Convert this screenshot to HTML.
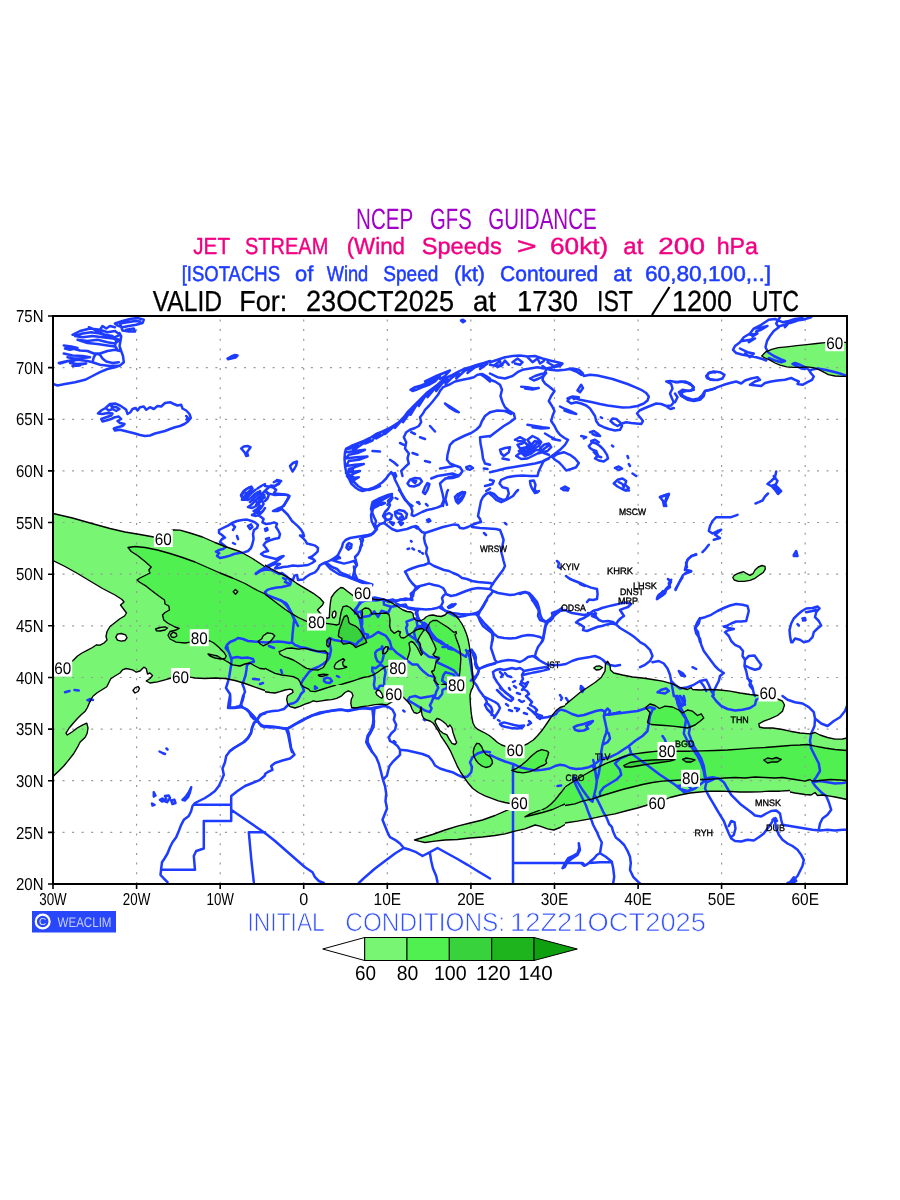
<!DOCTYPE html>
<html><head><meta charset="utf-8"><title>NCEP GFS Guidance - Jet Stream 200 hPa</title>
<style>html,body{margin:0;padding:0;background:#fff;}body{width:900px;height:1200px;position:relative;overflow:hidden;font-family:"Liberation Sans",sans-serif;}</style>
</head><body>
<svg width="900" height="1200" viewBox="0 0 900 1200" style="position:absolute;left:0;top:0;font-family:'Liberation Sans',sans-serif;will-change:transform;transform:translateZ(0)" text-rendering="geometricPrecision">
<rect width="900" height="1200" fill="#fff"/>
<defs><clipPath id="cp"><rect x="53" y="316" width="794" height="568"/></clipPath></defs>
<g clip-path="url(#cp)">
<clipPath id="t1"><rect x="40" y="506" width="225" height="190"/></clipPath>
<g clip-path="url(#t1)">
<path d="M30.0,508.5 L53.0,513.5 L72.5,518.0 L90.0,523.0 L110.0,528.5 L125.0,532.0 L140.0,534.5 L153.8,537.0 L165.0,532.2 L173.8,529.8 L180.0,530.2 L190.0,533.0 L202.5,537.0 L215.0,542.5 L225.0,546.5 L240.0,551.5 L252.5,558.5 L265.0,566.8 L275.0,573.5 L275.0,693.5 L265.0,690.5 L255.0,687.2 L245.0,683.5 L235.0,680.5 L225.0,678.5 L215.0,678.0 L205.0,678.5 L195.0,678.0 L190.0,677.2 L180.5,677.0 L171.2,678.0 L165.0,679.8 L157.5,681.8 L150.0,683.0 L146.2,681.0 L150.0,678.5 L152.5,675.5 L150.0,673.0 L147.5,674.0 L146.2,668.5 L143.8,667.2 L140.0,671.0 L136.2,672.2 L132.5,669.8 L126.2,668.5 L122.5,669.8 L120.0,673.0 L115.0,676.0 L110.8,678.8 L106.8,686.8 L97.2,692.8 L93.2,696.0 L91.2,706.0 L30.0,706.0 L30.0,681.0 L53.0,672.2 L62.0,668.0 L70.0,663.0 L73.8,659.8 L77.5,656.0 L82.0,653.0 L87.5,650.2 L92.5,647.5 L96.5,644.8 L100.0,645.2 L104.0,643.0 L107.0,640.0 L106.0,636.5 L107.0,631.5 L110.0,626.5 L114.5,623.0 L119.5,619.0 L124.5,616.0 L126.5,613.0 L123.5,609.0 L120.5,605.0 L124.0,602.0 L122.0,599.5 L115.0,595.0 L102.5,588.5 L90.0,581.0 L77.5,573.5 L65.0,566.5 L53.0,560.5 L30.0,549.8Z" fill="#78f573"/>
<path d="M115.8,637.2 L117.5,634.2 L121.2,633.5 L125.5,634.8 L127.0,637.8 L125.0,640.5 L121.2,641.2 L117.5,640.2Z" fill="#ffffff"/>
<path d="M133.0,690.5 L135.0,687.8 L138.0,686.5 L139.5,688.5 L138.0,691.5 L135.0,693.0Z" fill="#ffffff"/>
<path d="M128.0,547.5 L135.0,546.5 L145.0,547.5 L157.5,550.0 L170.0,553.5 L182.5,557.5 L195.0,562.0 L207.5,567.5 L220.0,573.0 L232.5,578.0 L245.0,583.5 L257.5,590.5 L265.0,594.0 L275.0,599.0 L275.0,666.0 L265.0,669.0 L260.0,668.5 L255.0,666.0 L250.0,663.0 L245.0,664.0 L240.0,666.0 L232.5,664.8 L226.2,661.0 L222.5,659.0 L217.5,656.0 L212.5,654.8 L208.0,654.0 L210.0,656.0 L215.0,658.0 L221.2,659.0 L225.0,658.5 L226.2,656.0 L223.8,652.2 L218.8,647.2 L213.8,643.0 L210.0,641.0 L199.2,638.5 L190.0,642.2 L185.0,643.0 L176.2,642.2 L170.0,639.0 L168.0,635.2 L170.0,631.5 L176.2,630.0 L179.2,628.5 L175.0,627.0 L167.5,623.0 L163.8,620.0 L162.5,615.0 L165.0,612.5 L169.5,610.0 L168.8,606.0 L165.0,604.0 L164.5,600.0 L158.8,596.0 L152.5,591.2 L146.2,586.2 L140.0,582.5 L137.0,580.0 L140.0,578.0 L145.0,575.5 L150.0,573.0 L148.8,570.0 L151.2,567.0 L145.0,561.5 L137.5,555.5 L131.2,551.5Z" fill="#50f050"/>
<path d="M233.2,591.8 L235.5,589.5 L237.8,591.8 L235.5,594.2Z" fill="#78f573"/>
<path d="M263.2,635.8 L267.5,632.8 L272.5,633.8 L274.8,635.8 L271.8,640.0 L267.5,644.0 L263.2,645.8 L260.0,643.8 L258.2,641.2 L261.8,638.8Z" fill="#78f573"/>
<path d="M170.5,634.8 L173.0,632.2 L176.2,633.5 L176.8,636.0 L174.2,637.5 L171.5,637.0Z" fill="#78f573"/>
<path d="M155.5,629.0 L160.0,627.5 L165.0,626.8 L167.5,628.0 L165.0,630.0 L160.0,631.0 L156.5,630.8Z" fill="#78f573"/>
</g>
<clipPath id="t2"><rect x="40" y="696" width="225" height="190"/></clipPath>
<g clip-path="url(#t2)">
<path d="M30.0,686.0 L97.5,686.0 L93.2,696.0 L91.2,699.2 L89.2,703.2 L87.2,708.0 L85.2,711.2 L81.2,714.8 L77.2,718.8 L73.2,723.2 L69.2,728.0 L66.0,733.2 L67.2,735.0 L72.0,732.0 L77.2,728.0 L82.8,724.8 L86.8,723.2 L88.0,728.0 L87.2,733.2 L85.2,737.2 L80.0,742.2 L77.5,747.2 L73.8,753.5 L68.8,759.8 L63.8,766.0 L58.8,771.0 L53.0,776.5 L30.0,796.0Z" fill="#78f573"/>
</g>
<clipPath id="t3"><rect x="265" y="560" width="150" height="125"/></clipPath>
<g clip-path="url(#t3)">
<path d="M258.3,560.8 L265.0,565.0 L271.7,569.2 L280.0,573.3 L288.3,577.5 L296.7,583.3 L305.0,588.3 L313.3,593.3 L320.0,598.3 L323.7,602.5 L322.5,605.0 L319.2,608.3 L317.5,610.0 L320.0,613.0 L323.3,615.8 L327.0,618.3 L329.3,617.5 L329.7,610.0 L330.3,603.3 L331.3,597.5 L334.2,593.3 L337.5,590.0 L340.8,587.5 L343.3,588.0 L346.7,590.8 L350.0,593.3 L353.3,595.8 L362.5,597.5 L371.7,598.7 L378.3,600.0 L383.3,599.2 L388.3,600.8 L393.3,603.7 L398.3,607.0 L403.0,610.0 L407.0,611.5 L411.0,612.0 L413.0,613.5 L413.5,617.0 L415.0,619.5 L421.7,620.8 L421.7,693.3 L258.3,693.3Z" fill="#78f573"/>
<path d="M332.2,615.0 L333.0,612.0 L334.7,611.0 L336.0,612.5 L335.7,615.8 L334.0,618.0 L332.7,617.3Z" fill="#ffffff"/>
<path d="M258.3,590.0 L265.0,594.2 L271.7,599.2 L278.3,604.2 L285.0,609.2 L291.7,613.7 L298.3,617.5 L306.7,621.3 L316.5,623.0 L325.8,623.3 L331.7,624.2 L336.7,625.0 L339.2,624.2 L340.0,618.3 L341.3,611.7 L343.0,606.7 L346.7,605.8 L350.0,607.5 L353.3,610.8 L356.7,614.2 L359.2,617.5 L361.7,618.3 L362.5,613.3 L362.0,610.0 L365.0,608.0 L368.3,608.3 L370.8,610.8 L371.7,614.2 L376.7,613.7 L381.7,613.3 L386.7,613.0 L389.2,615.0 L390.0,620.0 L389.7,625.8 L390.8,630.0 L394.2,633.3 L398.0,631.0 L400.5,632.0 L399.5,635.0 L401.0,637.5 L404.0,638.0 L407.0,636.0 L410.0,634.0 L413.0,632.0 L416.0,630.0 L422.0,628.5 L424.0,630.0 L422.0,633.0 L420.0,636.0 L418.5,639.0 L417.5,641.0 L419.5,642.5 L420.5,645.0 L420.0,648.0 L421.0,651.0 L422.5,653.5 L421.2,655.2 L419.5,652.0 L417.5,648.0 L415.5,645.0 L413.5,642.5 L411.0,641.5 L409.0,643.0 L409.5,646.0 L410.0,650.0 L409.0,654.0 L408.0,657.0 L407.0,659.8 L405.8,664.2 L403.3,668.0 L397.8,669.2 L389.2,665.8 L385.8,666.7 L381.7,669.2 L378.3,671.7 L373.3,675.0 L368.3,676.7 L363.3,677.5 L358.3,679.2 L353.3,680.8 L346.0,683.0 L338.3,685.3 L331.7,687.5 L331.7,693.3 L303.3,693.3 L300.8,683.3 L298.3,679.2 L293.3,676.7 L288.3,675.8 L281.7,675.0 L275.0,673.3 L270.0,670.8 L265.0,668.3 L258.3,665.0Z" fill="#50f050"/>
<path d="M263.3,635.8 L267.5,632.8 L272.5,633.7 L274.7,635.8 L271.7,640.0 L267.5,644.0 L263.3,645.8 L260.0,643.7 L258.3,641.3 L261.7,638.7Z" fill="#78f573"/>
<path d="M279.2,651.7 L283.3,650.0 L286.7,648.3 L291.7,648.0 L298.3,649.2 L305.0,648.3 L311.7,650.0 L318.3,651.3 L325.0,650.8 L327.5,653.3 L327.0,658.3 L325.8,663.3 L323.3,667.5 L318.3,670.0 L312.5,669.7 L306.7,668.3 L302.5,665.8 L298.3,663.0 L293.3,660.0 L288.3,658.0 L283.3,656.3 L280.0,654.2Z" fill="#78f573"/>
<path d="M327.0,640.0 L329.2,638.0 L330.8,639.2 L330.3,643.3 L328.3,647.0 L326.7,645.0Z" fill="#78f573"/>
<path d="M334.2,666.7 L335.8,663.3 L339.2,660.8 L343.3,658.7 L344.7,660.0 L342.5,662.5 L343.3,665.8 L346.7,667.0 L343.3,668.3 L338.3,669.2 L335.0,668.7Z" fill="#78f573"/>
<path d="M318.3,675.0 L323.3,674.2 L328.0,674.7 L323.3,676.2 L319.2,676.2Z" fill="#78f573"/>
<path d="M382.5,653.3 L383.7,649.2 L385.8,646.7 L388.3,647.0 L387.5,650.8 L385.0,653.7Z" fill="#78f573"/>
<path d="M338.3,635.8 L339.2,630.0 L340.8,625.8 L342.5,620.8 L344.2,616.7 L346.7,615.3 L348.3,618.3 L348.8,622.5 L350.8,624.2 L355.0,625.8 L358.3,628.3 L360.8,631.7 L363.3,635.8 L365.8,640.0 L366.7,642.5 L363.3,644.2 L359.2,645.8 L355.8,647.5 L353.3,645.0 L350.0,643.0 L346.7,643.7 L343.3,644.2 L341.3,641.7 L342.0,638.3 L339.2,637.0Z" fill="#37d23c"/>
</g>
<clipPath id="t4"><rect x="415" y="560" width="150" height="125"/></clipPath>
<g clip-path="url(#t4)">
<path d="M408.3,620.8 L415.0,619.5 L418.0,621.0 L421.0,620.5 L424.0,619.0 L426.0,617.0 L429.0,615.5 L433.0,615.0 L437.0,616.0 L441.0,616.5 L445.0,615.0 L447.5,612.5 L450.0,611.8 L453.0,613.5 L456.0,616.0 L459.0,619.5 L462.0,624.0 L464.5,629.0 L466.5,634.0 L468.0,639.0 L469.0,644.0 L469.8,649.0 L470.5,654.0 L471.2,659.0 L471.8,664.0 L472.2,670.0 L472.5,675.0 L473.0,680.0 L473.7,685.0 L474.2,693.3 L408.3,693.3Z" fill="#78f573"/>
<path d="M408.3,633.3 L410.0,634.0 L413.0,632.0 L416.0,630.0 L419.0,629.0 L422.0,628.5 L424.0,630.0 L422.0,633.0 L420.0,636.0 L418.5,639.0 L417.5,641.0 L419.5,642.5 L420.5,645.0 L420.0,648.0 L421.0,651.0 L422.5,653.5 L421.2,655.2 L419.5,652.0 L417.5,648.0 L415.5,645.0 L413.5,642.5 L411.0,641.5 L408.3,642.5Z" fill="#50f050"/>
<path d="M426.0,630.0 L428.0,626.0 L430.0,622.5 L433.0,620.5 L437.0,620.5 L440.0,622.5 L444.0,625.0 L448.0,627.5 L451.0,630.0 L454.0,632.5 L456.0,631.5 L456.5,633.5 L455.0,634.5 L456.0,638.0 L457.5,642.0 L459.0,646.0 L460.0,650.0 L460.5,654.0 L460.8,659.0 L460.5,664.0 L460.0,670.0 L459.5,675.0 L459.3,677.2 L453.3,682.5 L447.0,685.0 L445.0,684.0 L442.5,684.5 L440.0,686.0 L438.5,685.0 L436.0,682.5 L434.0,680.5 L435.0,678.0 L433.5,675.0 L431.5,671.5 L434.0,670.5 L435.0,667.0 L436.0,662.0 L439.0,659.0 L438.0,657.5 L435.0,656.5 L433.0,654.5 L435.0,652.0 L436.0,649.0 L434.5,645.0 L432.0,640.0 L429.0,634.0Z" fill="#50f050"/>
</g>
<clipPath id="t5"><rect x="265" y="685" width="150" height="125"/></clipPath>
<g clip-path="url(#t5)">
<path d="M258.3,691.3 L265.0,691.7 L270.0,692.5 L275.0,693.0 L280.0,691.7 L285.0,690.0 L290.0,689.2 L292.5,690.0 L293.0,692.5 L290.0,694.2 L287.5,695.8 L286.7,699.2 L287.5,703.3 L290.0,706.7 L295.0,708.0 L300.0,706.3 L305.0,704.2 L310.0,702.5 L313.3,700.8 L316.7,701.7 L321.7,700.8 L326.7,700.0 L331.7,699.7 L336.7,698.3 L341.7,695.8 L345.0,692.5 L348.3,690.8 L351.7,692.5 L353.0,695.8 L351.3,699.2 L350.8,703.3 L351.7,707.5 L355.8,708.0 L361.7,706.7 L368.3,705.8 L375.0,704.7 L381.7,704.2 L386.7,705.0 L393.7,700.8 L403.0,697.0 L405.0,699.0 L408.0,702.0 L410.5,705.0 L412.0,709.0 L414.0,712.5 L417.0,713.5 L421.7,713.3 L421.7,678.3 L258.3,678.3Z" fill="#78f573"/>
<path d="M375.8,692.5 L377.5,690.0 L380.0,690.8 L381.7,693.3 L383.0,696.7 L381.7,698.3 L379.2,696.7 L377.0,695.0Z" fill="#ffffff"/>
<path d="M300.8,683.3 L303.3,686.7 L308.7,689.2 L310.3,691.2 L315.0,691.7 L321.7,689.5 L328.3,687.3 L335.0,685.3 L338.3,683.3Z" fill="#50f050"/>
</g>
<clipPath id="t6"><rect x="415" y="685" width="150" height="125"/></clipPath>
<g clip-path="url(#t6)">
<path d="M408.3,678.3 L471.7,678.3 L473.5,681.0 L473.0,687.0 L471.0,691.0 L470.0,695.0 L470.2,700.0 L470.5,705.0 L471.0,711.0 L471.8,717.0 L473.0,723.0 L475.0,727.0 L478.3,729.7 L481.7,731.3 L485.0,733.0 L489.2,735.5 L493.3,738.7 L497.5,742.5 L501.7,745.0 L505.8,746.3 L515.0,747.0 L524.2,745.3 L528.3,743.3 L533.3,740.0 L537.5,735.8 L541.7,730.8 L545.8,725.0 L549.2,720.0 L552.5,715.0 L555.8,710.8 L560.0,707.5 L565.0,705.8 L571.7,704.2 L571.7,818.3 L513.3,818.3 L514.7,809.2 L519.2,805.3 L510.8,803.7 L505.0,802.5 L498.3,800.8 L491.7,798.3 L485.0,795.8 L478.3,792.5 L472.5,788.3 L468.3,783.3 L464.2,777.5 L460.8,772.5 L457.5,766.7 L454.2,759.2 L450.8,751.7 L447.5,745.8 L444.2,740.8 L440.8,735.8 L438.3,730.8 L436.3,728.0 L434.5,725.0 L433.0,723.0 L430.0,721.0 L426.5,720.0 L423.5,718.0 L422.0,715.0 L421.5,711.0 L421.0,707.0 L420.0,712.0 L417.0,713.5 L414.0,712.5 L412.0,709.0 L410.5,705.0 L408.0,702.0 L405.0,699.0Z" fill="#78f573"/>
<path d="M435.0,721.0 L437.0,718.5 L440.0,719.5 L443.0,721.5 L446.0,724.0 L448.0,727.0 L450.0,725.0 L452.0,728.0 L453.0,732.5 L455.3,739.2 L456.7,742.5 L455.0,744.5 L452.0,743.3 L449.2,739.2 L446.7,734.7 L443.3,733.3 L440.0,730.8 L437.5,726.7 L435.8,723.7Z" fill="#ffffff"/>
<path d="M473.3,751.7 L474.2,747.5 L476.7,743.3 L479.2,743.7 L481.7,746.7 L483.3,750.8 L485.8,754.2 L490.0,756.7 L492.0,760.0 L492.5,763.3 L490.0,766.3 L485.8,767.5 L481.7,765.8 L478.3,763.3 L475.8,760.0 L473.7,755.8Z" fill="#50f050"/>
<path d="M511.7,770.3 L516.7,768.3 L521.7,765.0 L526.7,760.8 L531.7,755.8 L536.7,751.7 L541.7,749.7 L546.7,750.8 L548.7,752.5 L547.5,756.7 L545.8,760.8 L546.7,763.0 L544.2,765.0 L540.0,766.7 L535.8,769.2 L530.0,771.7 L523.3,772.8 L516.7,772.0Z" fill="#50f050"/>
<path d="M565.0,787.5 L561.7,791.7 L558.3,795.8 L555.0,800.0 L550.8,804.2 L546.7,807.5 L541.7,810.0 L531.7,814.2 L525.0,816.7 L535.0,814.2 L545.0,811.7 L552.5,809.5 L562.5,805.0 L572.5,801.2 L572.5,785.0Z" fill="#50f050"/>
</g>
<clipPath id="t7"><rect x="565" y="650" width="225" height="190"/></clipPath>
<g clip-path="url(#t7)">
<path d="M555.0,712.5 L565.0,705.0 L572.5,698.8 L580.0,692.5 L587.5,687.5 L595.0,682.5 L601.2,677.5 L605.0,671.2 L605.5,663.8 L607.5,661.2 L610.0,665.0 L610.5,670.0 L613.8,673.0 L622.5,675.0 L632.5,677.0 L642.5,678.0 L652.5,679.5 L662.5,681.2 L672.5,683.8 L680.0,687.5 L687.5,689.5 L691.2,687.5 L692.5,689.5 L700.0,690.0 L710.0,689.5 L720.0,690.0 L730.0,691.2 L740.0,693.0 L750.0,694.5 L758.8,695.5 L768.0,696.5 L777.5,698.8 L782.5,701.2 L784.5,705.0 L782.5,711.2 L777.5,715.5 L770.0,718.8 L763.8,721.2 L758.8,723.8 L759.5,727.0 L763.8,728.0 L772.5,728.0 L782.5,729.5 L790.0,731.2 L800.0,733.0 L800.0,790.0 L790.0,790.5 L780.0,791.2 L770.0,791.2 L760.0,791.8 L750.0,792.0 L740.0,792.0 L730.0,791.5 L720.0,791.2 L710.0,791.2 L700.0,792.0 L690.0,793.0 L680.0,795.0 L670.0,797.5 L657.0,803.0 L647.5,805.0 L637.5,808.0 L627.5,810.5 L615.0,813.8 L602.5,816.2 L590.0,818.8 L577.5,821.2 L565.0,823.0 L555.0,824.5Z" fill="#78f573"/>
<path d="M593.8,668.0 L596.2,666.2 L600.0,666.0 L602.5,667.5 L600.0,669.5 L596.2,670.0Z" fill="#78f573"/>
<path d="M645.5,707.5 L650.0,704.0 L655.0,705.5 L659.5,708.5 L665.0,706.2 L672.5,707.0 L678.8,710.0 L682.5,713.0 L687.5,710.0 L692.5,711.2 L697.5,715.5 L701.2,713.8 L703.8,718.0 L700.0,721.2 L695.0,725.0 L687.5,728.0 L680.0,727.0 L672.5,726.2 L665.0,725.5 L657.5,725.0 L651.2,724.5 L647.5,722.5 L648.8,717.5 L650.0,712.5Z" fill="#50f050"/>
<path d="M555.0,793.0 L565.0,787.0 L575.0,780.5 L585.0,774.5 L595.0,768.8 L605.0,763.8 L615.0,760.0 L625.0,756.2 L635.0,753.8 L645.0,752.5 L657.5,751.2 L667.0,751.2 L676.2,751.2 L690.0,751.2 L702.5,750.8 L715.0,750.5 L727.5,750.0 L740.0,749.2 L752.5,748.2 L765.0,747.5 L777.5,746.5 L790.0,745.5 L800.0,745.0 L800.0,779.5 L790.0,778.8 L782.5,777.5 L775.0,778.0 L765.0,777.5 L755.0,777.0 L745.0,778.0 L735.0,777.5 L725.0,778.0 L715.0,778.8 L705.0,779.5 L700.0,779.5 L690.5,780.0 L681.2,780.0 L672.5,780.5 L662.5,781.2 L652.5,782.5 L642.5,784.5 L632.5,787.0 L622.5,789.5 L612.5,792.5 L602.5,795.5 L592.5,798.8 L582.5,801.2 L575.0,803.8 L565.0,805.5 L555.0,807.0Z" fill="#50f050"/>
<path d="M623.8,765.5 L630.0,762.5 L640.0,760.8 L652.5,760.0 L665.0,759.5 L675.0,759.5 L670.0,761.2 L660.0,762.5 L650.0,763.8 L640.0,765.5 L631.2,767.0 L625.0,767.0Z" fill="#37d23c"/>
<path d="M682.5,759.5 L686.2,758.0 L691.2,758.8 L695.0,760.0 L691.2,762.0 L686.2,762.0Z" fill="#37d23c"/>
<path d="M763.8,760.0 L767.5,758.0 L772.5,758.8 L776.2,757.5 L781.2,759.5 L777.5,762.0 L772.5,761.8 L767.5,763.0Z" fill="#37d23c"/>
</g>
<clipPath id="t8"><rect x="790" y="650" width="75" height="190"/></clipPath>
<g clip-path="url(#t8)">
<path d="M780.0,729.5 L790.0,731.2 L800.0,733.0 L810.0,733.8 L815.0,732.5 L820.0,735.0 L827.5,737.5 L835.0,739.2 L842.5,739.0 L847.0,738.0 L860.0,736.2 L860.0,798.8 L847.0,799.5 L840.0,798.0 L835.0,797.0 L830.0,796.2 L822.5,795.0 L817.5,795.5 L815.0,792.5 L811.2,795.0 L805.0,794.5 L795.0,793.0 L790.0,792.0 L785.0,791.2 L780.0,792.0Z" fill="#78f573"/>
<path d="M780.0,745.8 L787.5,745.5 L800.0,745.0 L807.5,744.5 L815.0,746.2 L825.0,748.0 L835.0,749.5 L847.0,750.5 L860.0,751.2 L860.0,780.5 L847.0,780.5 L840.0,780.0 L830.0,779.5 L820.0,780.5 L812.5,781.2 L810.0,779.5 L805.0,781.2 L795.0,779.5 L785.0,778.0 L780.0,777.5Z" fill="#50f050"/>
</g>
<clipPath id="t9"><rect x="400" y="810" width="165" height="70"/></clipPath>
<g clip-path="url(#t9)">
<path d="M414.5,840.0 L422.5,837.5 L432.5,834.5 L445.0,830.0 L457.5,826.2 L470.0,823.0 L482.5,820.0 L495.0,815.5 L505.0,811.2 L510.0,808.8 L517.5,806.2 L525.0,805.0 L575.0,805.0 L575.0,822.5 L565.0,824.5 L560.0,827.5 L553.8,830.0 L547.5,828.8 L540.0,826.2 L535.0,825.0 L525.0,828.8 L515.0,831.2 L505.0,833.8 L495.0,835.5 L482.5,837.0 L470.0,838.0 L457.5,839.5 L445.0,840.0 L435.0,841.2 L425.0,842.5 L418.8,841.2Z" fill="#78f573"/>
<path d="M525.0,816.8 L530.0,813.8 L537.5,811.2 L547.5,806.2 L555.0,801.2 L562.5,805.0 L552.5,809.5 L542.5,812.5 L532.5,815.0Z" fill="#50f050"/>
</g>
<clipPath id="t10"><rect x="730" y="316" width="150" height="125"/></clipPath>
<g clip-path="url(#t10)">
<path d="M761.7,356.0 L765.8,351.8 L771.7,349.3 L778.3,347.7 L786.7,346.8 L796.7,345.7 L806.7,344.7 L816.7,343.5 L825.0,342.7 L834.7,342.3 L847.0,342.3 L853.3,342.2 L853.3,376.8 L847.0,376.3 L841.7,376.3 L835.0,376.0 L828.3,374.7 L823.3,371.8 L818.3,369.3 L813.3,367.7 L806.7,366.8 L800.0,367.3 L793.3,367.3 L786.7,366.8 L780.0,365.2 L775.0,363.0 L770.0,360.2 L765.0,358.0Z" fill="#78f573"/>
</g>
<clipPath id="t11"><rect x="700" y="530" width="150" height="125"/></clipPath>
<g clip-path="url(#t11)">
<path d="M732.8,577.5 L734.2,575.3 L737.5,573.7 L740.8,572.5 L743.7,571.7 L746.7,573.7 L750.0,575.3 L753.0,573.7 L755.0,570.0 L758.3,567.0 L762.0,565.5 L765.0,566.3 L765.3,569.2 L763.3,572.5 L759.2,575.3 L755.0,578.3 L750.0,580.3 L744.2,581.3 L738.3,581.3 L734.2,580.0Z" fill="#78f573"/>
</g>
<path d="M136.6,884 V316 M220.2,884 V316 M303.7,884 V316 M387.3,884 V316 M470.9,884 V316 M554.5,884 V316 M638.1,884 V316 M721.6,884 V316 M805.2,884 V316" stroke="#9a9a9a" stroke-width="1.2" stroke-dasharray="2 7.7" fill="none"/>
<path d="M53,832.4 H847 M53,780.7 H847 M53,729.1 H847 M53,677.5 H847 M53,625.8 H847 M53,574.2 H847 M53,522.5 H847 M53,470.9 H847 M53,419.3 H847 M53,367.6 H847" stroke="#9a9a9a" stroke-width="1.2" stroke-dasharray="2 7.55" fill="none"/>
<g fill="none" stroke="#1e3cff" stroke-width="2.5" stroke-linejoin="round" stroke-linecap="round">
<path d="M53.0,384.0 L57.5,385.5 L65.0,384.0 L75.0,382.2 L85.0,379.8 L92.5,376.0 L100.0,372.2 L107.5,369.0 L115.0,367.2 L120.0,365.5 L123.8,362.2 L123.0,356.0 L121.2,351.0 L119.5,346.0 L120.5,341.0 L121.2,336.0 L119.5,333.0 M58.8,363.0 L67.5,361.0 L77.5,359.8 L87.5,361.0 L92.5,362.2 L100.0,364.8 L110.0,366.0 L120.0,365.5 M92.5,362.2 L93.8,357.2 L96.2,353.5 L100.0,354.8 L102.5,358.5 L106.2,361.5 L112.5,363.0 L118.8,362.2 M65.0,346.0 L72.5,348.5 L80.0,350.5 L87.5,351.0 L93.8,353.5 L100.0,353.5 L107.5,351.0 L115.0,349.8 L120.0,351.0 M63.8,353.5 L72.5,355.5 L82.5,356.0 L90.0,357.2 L82.5,358.0 L73.8,358.5 L67.5,357.2 M60.0,363.5 L70.0,360.5 L77.5,359.0 L70.0,363.0 L77.5,364.0 L86.2,363.5 L72.5,366.0 L80.0,365.5 M63.8,345.5 L71.2,346.5 L77.5,348.0 L70.0,349.8 L65.0,348.5 M72.5,334.8 L80.0,331.0 L90.0,328.5 L100.0,329.8 L107.5,332.2 L115.0,331.0 L120.0,334.8 L115.0,337.2 L107.5,336.0 L100.0,333.5 L91.2,332.2 L82.5,333.5 L75.0,336.0 L82.5,337.2 L92.5,336.0 L102.5,337.2 L112.5,338.5 L120.0,339.8 L115.0,343.5 L107.5,342.2 L97.5,339.8 L87.5,341.0 L77.5,339.8 L87.5,343.0 L97.5,344.0 L107.5,345.5 L115.0,346.5 M88.8,327.2 L97.5,331.0 L105.0,334.8 L112.5,336.0 L116.2,341.0 L115.0,346.0 L117.5,349.8 M100.0,329.8 L102.5,326.0 L106.2,328.5 L110.0,326.0 L115.0,327.2 M115.0,323.5 L122.5,321.0 L130.0,319.0 L137.5,318.0 L143.8,319.8 L142.5,323.0 L136.2,324.8 L128.8,326.0 L122.5,327.2 L117.5,325.5 L115.0,323.5 M126.2,329.8 L133.8,328.5 L135.0,331.5 L128.8,331.5 L122.5,330.5 L120.0,323.5 L127.5,322.2 L135.0,321.0 L140.0,321.5 M98.0,413.5 L101.2,410.5 L105.5,408.0 L110.0,404.0 L115.0,403.5 L120.0,405.5 L123.8,408.0 L126.2,409.8 L127.5,414.0 L130.5,412.2 L132.5,409.0 L135.5,408.0 L137.5,410.5 L140.0,407.2 L143.8,406.5 L146.2,409.8 L150.0,407.2 L153.8,409.0 L157.5,406.0 L161.2,406.5 L165.0,403.0 L170.0,402.2 L173.8,404.0 L177.5,405.5 L181.2,404.8 L182.5,408.5 L186.2,410.5 L189.5,414.0 L190.8,418.0 L188.0,421.5 L184.5,424.0 L180.0,426.0 L175.0,427.2 L170.0,429.0 L165.0,431.0 L160.0,432.2 L155.0,433.5 L150.0,435.5 L145.0,436.0 L140.0,435.0 L135.0,433.5 L130.0,432.2 L125.0,431.0 L120.0,429.8 L115.0,430.5 L113.8,428.5 L117.5,427.2 L122.5,426.0 L124.5,424.0 L120.0,423.0 L117.5,421.0 L121.2,419.0 L118.8,416.5 L115.0,417.2 L111.2,419.0 L106.2,420.5 L102.5,421.5 L101.2,419.0 L106.2,417.2 L111.2,415.5 L112.5,413.5 L107.5,413.0 L102.5,414.0 L98.0,413.5 M105.5,408.0 L108.8,410.5 L112.5,409.0 L116.2,411.0 L119.5,409.0 L116.2,407.2 L112.5,406.5 L110.0,404.0 L112.5,408.0 M186.2,416.0 L188.0,418.0 L186.5,419.5 M227.5,358.5 L231.2,356.5 L235.0,355.0 L237.5,355.5 L235.5,357.5 L231.2,358.5 L228.0,359.2 M241.2,448.5 L243.8,446.5 L247.5,446.0 L250.5,447.2 L248.8,449.8 L247.0,452.2 L248.0,455.5 L246.2,456.0 L245.0,453.0 L243.0,450.5 L241.2,448.5 M241.2,494.8 L243.8,491.0 L247.5,488.5 L251.2,486.5 L252.5,488.5 L249.5,491.0 L246.2,494.0 L243.8,497.2 L242.0,499.8 L245.0,499.8 L248.8,496.0 L252.5,492.2 L255.5,489.8 M257.5,488.5 L261.2,486.0 L265.0,484.0 M250.0,502.2 L253.8,498.5 L257.5,494.8 L260.0,491.0 L261.2,496.0 L258.8,501.0 L256.2,504.8 M261.2,499.8 L265.0,497.2"/>
<path d="M461.0,320.5 L463.0,319.8 L465.0,321.0 L463.0,322.2 L461.0,320.5 M290.0,466.0 L293.0,463.0 L297.0,461.5 L296.2,465.5 L294.5,468.5 L292.5,471.5 L291.0,468.5 L290.0,466.0 M273.8,482.2 L277.5,480.5 L281.2,481.0 L277.5,484.0 L275.0,486.0 M265.0,486.0 L272.5,487.2 L276.2,489.8 L273.8,493.5 L280.0,494.0 L286.2,494.8 L289.5,496.0 L287.5,499.8 L285.0,503.5 L283.8,506.0 M265.0,491.0 L268.8,494.8 L267.5,498.5 L265.0,501.0 M362.5,491.0 L358.8,489.8 L355.0,487.2 L351.2,483.5 L348.8,478.5 L346.2,472.2 L345.0,466.0 L344.5,458.5 L345.0,452.2 L346.2,448.5 L351.2,446.0 L357.5,443.5 L363.8,441.0 L370.0,438.0 L376.2,434.0 L382.5,431.5 L388.8,428.5 L393.8,425.5 L398.8,422.2 L403.8,417.2 L407.5,412.2 L412.5,407.2 L417.5,402.2 L422.5,397.2 L427.5,392.2 L432.5,388.5 L437.5,384.8 L441.2,381.5 L445.0,378.5 L451.2,375.5 L457.5,372.2 L463.8,369.0 L470.0,367.2 L477.5,364.8 L483.8,363.0 L490.0,361.0 M346.2,452.2 L355.0,451.0 L365.0,449.8 L357.5,453.0 L348.8,454.8 L345.5,458.5 L356.2,457.2 L367.5,456.5 L358.8,459.8 L348.8,461.0 L346.2,466.0 L355.0,464.8 L363.8,464.0 L355.0,467.2 L348.8,469.0 L348.8,472.2 L360.0,471.0 L352.5,474.0 L350.0,478.5 L358.8,477.2 L352.5,481.0 L351.2,483.0 M347.5,449.0 L352.5,448.0 L358.0,445.5 L353.0,450.5 L363.8,443.0 L370.0,439.8 L365.0,443.5 L372.5,440.5 L375.0,436.0 L380.0,433.5 L376.2,438.5 L382.5,434.8 L388.0,430.5 L385.0,434.0 L393.0,427.2 L397.5,424.0 L395.0,428.0 L401.2,421.0 L405.0,417.2 L403.0,422.2 L408.8,414.0 L412.5,409.0 L410.5,414.8 L416.2,405.5 L421.2,399.8 L418.8,406.0 L425.0,396.5 L430.0,391.0 L427.5,397.2 L433.8,389.8 L438.8,385.5 L436.2,391.0 L442.5,383.0 L447.5,378.5 L445.5,384.0 L452.5,377.2 L458.8,373.5 L456.2,378.5 L465.0,370.5 L471.2,368.0 L467.5,373.0 L475.0,367.2 L482.5,364.8 L480.0,369.0 L487.5,363.5 M410.5,389.8 L415.0,387.2 L421.2,385.5 L427.5,383.0 L433.0,380.5 L437.5,378.5 L440.0,376.0 L435.0,381.5 L428.8,384.8 L422.5,387.2 L416.2,389.8 L412.5,391.0 L410.5,389.8 M425.0,381.5 L431.2,378.5 L437.5,375.5 L443.8,373.0 L450.0,370.5 L445.0,376.0 L440.0,379.0 M362.5,491.0 L367.5,489.8 L372.5,488.0 L377.5,485.5 L382.5,482.2 L386.2,478.5 L388.8,474.8 L391.2,472.2 L393.8,476.0 L395.0,479.8 L397.5,484.8 L400.0,489.8 L402.0,494.8 L405.0,499.8 L408.8,503.5 L412.5,506.0 M391.2,472.2 L393.0,474.0 L395.0,473.0 L396.2,476.0 L394.5,478.5 M402.5,476.0 L401.2,471.0 L405.0,467.2 L408.8,463.5 L407.5,458.5 L408.8,453.5 L405.0,448.5 L406.2,442.2 L403.8,437.2 L406.2,432.2 L410.0,429.8 L415.0,428.0 L418.8,426.0 L421.2,422.2 L420.0,417.2 L423.0,413.5 L425.0,409.8 L428.8,406.0 L432.0,402.2 L435.0,398.5 L438.0,394.8 L440.0,391.0 L443.0,387.2 L448.8,384.8 L455.0,381.5 L462.5,379.8 L468.8,378.5 L473.8,377.2 L477.5,374.8 L482.5,374.0 L486.2,376.0 L490.0,378.5 M480.0,374.0 L485.0,377.2 L490.0,381.5 M490.0,412.2 L485.0,416.0 L482.0,421.0 L480.0,426.0 L476.2,429.8 L471.2,433.0 L465.0,435.5 L458.8,438.5 L453.8,441.0 L450.0,444.8 L448.8,449.8 L447.5,454.8 L447.0,459.8 L450.0,463.5 L455.0,465.5 L460.0,467.2 L462.5,471.0 L460.0,474.8 L455.0,476.0 L448.8,477.2 L443.8,479.8 L440.0,483.5 L441.2,488.5 L442.5,493.5 L443.8,499.8 L443.0,506.0 M431.2,478.5 L437.5,476.0 L445.0,474.8 L452.5,473.5 L458.8,476.0 L452.5,478.0 L445.0,478.5 M440.0,468.5 L447.5,467.2 L453.8,466.0 M480.0,437.2 L490.0,436.0 M480.0,437.2 L480.5,443.5 L482.0,451.0 L483.0,458.5 L485.0,463.5 L490.0,464.8 M483.8,468.5 L487.5,469.0 M466.2,467.2 L470.0,466.0 L473.0,468.0 L470.0,469.8 L467.0,469.0 L466.2,467.2 M407.5,483.5 L410.0,479.8 L415.0,478.0 L420.0,478.5 L422.0,481.5 L418.8,484.8 L413.8,486.5 L409.5,486.0 L407.5,483.5 M412.5,481.0 L416.2,481.0 L415.0,483.0 L412.5,481.0 M423.0,492.2 L425.0,487.2 L427.5,483.0 L429.5,484.0 L427.5,489.8 L425.0,494.0 L423.0,492.2 M445.0,403.5 L450.0,406.5 L455.0,409.8 L458.8,412.2 L455.0,411.0 L450.0,408.0 L445.0,403.5 M411.2,432.2 L415.0,434.0 M420.0,437.2 L425.0,439.0 M412.5,453.0 L417.5,454.8 M425.0,461.0 L430.0,462.2 M400.0,443.0 L403.8,444.8 M390.0,459.8 L393.8,462.2 L397.5,465.5 M372.5,451.0 L380.0,451.5 M430.0,426.0 L435.0,431.5 M456.2,501.0 L458.8,496.0 L462.5,493.0 L465.0,492.2 L463.8,496.0 L461.2,500.5 L458.0,503.5 L456.2,501.0 M445.5,499.8 L447.0,504.8 M372.5,502.2 L377.5,500.5 L382.5,499.8 L387.5,497.2 L391.2,494.8 L392.5,498.0 L390.0,501.5 L387.5,504.8 M373.8,503.5 L380.0,502.2 L385.0,503.0 L381.2,504.8 L375.0,505.0 M395.5,498.0 L397.5,499.0 M417.0,502.2 L418.8,503.0 M486.2,491.0 L490.0,488.5 M485.0,486.0 L490.0,484.8"/>
<path d="M490.0,362.2 L497.5,359.8 L505.0,357.2 L512.5,356.0 L520.0,355.5 L527.5,356.5 L535.0,356.0 L542.5,358.5 L550.0,360.5 L557.5,362.2 L562.5,363.5 L560.0,366.0 L552.5,367.2 L546.2,368.5 L542.5,366.0 M495.0,364.8 L500.0,361.0 L501.2,366.0 L505.0,360.5 L508.8,364.8 M512.5,362.2 L517.5,358.5 L522.5,362.2 L520.0,364.8 L515.0,363.5 M527.5,357.2 L532.5,362.2 L537.5,358.5 L540.0,363.5 L543.8,361.0 M547.5,362.2 L553.8,366.0 L558.8,364.8 M490.0,364.8 L496.2,366.0 L502.5,364.8 L497.5,367.2 M542.5,367.2 L550.0,369.8 L557.5,370.5 L565.0,369.8 L572.5,368.5 L578.8,369.8 L582.5,373.0 L583.8,376.0 L590.0,374.8 L597.5,375.5 L605.0,377.2 L612.5,379.0 L620.0,381.5 L627.5,384.0 L635.0,387.2 L641.2,389.8 L646.2,393.0 L648.8,396.5 L647.5,400.5 L643.8,403.5 L637.5,406.0 L630.0,407.2 L622.5,407.5 L615.0,406.5 L607.5,405.5 L600.0,404.0 L592.5,402.2 L586.2,401.0 L580.0,399.8 L575.0,398.0 L570.0,397.2 M570.0,369.0 L576.2,371.5 L581.2,374.8 L577.5,372.2 M570.0,398.0 L567.5,401.0 L571.2,403.5 L576.2,402.2 L581.2,403.5 L586.2,405.5 L590.0,408.5 L592.5,412.2 L595.0,416.0 L596.2,421.0 L598.8,424.8 L603.8,427.2 L608.8,429.0 L615.0,430.5 L620.0,429.8 L622.0,426.0 L620.0,422.2 L616.2,419.0 L612.5,418.5 L610.5,421.0 L613.8,424.0 L617.5,426.0 L622.0,423.5 L626.2,422.2 L631.2,423.0 L636.2,423.5 L641.2,424.0 L643.0,421.0 L640.0,417.2 L637.0,413.5 L639.5,410.5 L645.0,408.0 L651.2,405.5 L656.2,403.5 L661.2,404.0 L666.2,406.0 L671.2,405.5 L673.8,402.2 L672.0,398.5 L670.0,393.5 L672.5,388.5 L671.2,384.0 L666.2,381.5 L670.0,381.0 L677.5,382.2 L685.0,381.5 L690.0,383.5 L693.8,387.2 L691.2,390.5 L686.2,391.0 L681.2,392.2 L682.5,395.5 L687.5,398.0 L692.5,399.8 L698.8,398.5 L702.5,394.8 L705.0,391.0 L710.0,389.8 L715.0,388.5 M667.5,407.2 L670.5,409.0 L673.8,408.0 M707.0,376.0 L708.8,373.0 L712.5,372.0 L715.0,372.5 M707.0,376.0 L709.5,379.0 L713.8,380.0 M546.2,369.8 L543.8,374.8 L542.5,379.8 L545.0,383.5 L550.0,387.2 L554.5,391.0 L551.2,396.0 L548.8,401.0 L552.0,406.0 L554.5,411.0 L552.5,416.0 L551.2,421.0 L554.5,426.0 L557.0,431.0 L560.0,434.8 L564.5,438.0 L568.0,439.8 L565.0,444.8 L560.0,449.8 L554.5,454.0 L548.8,458.0 L543.8,460.5 M490.0,379.8 L495.0,381.5 L500.0,384.8 L502.0,389.8 L500.5,396.0 L502.5,402.2 L505.0,407.2 L508.8,410.5 L513.8,413.5 L515.0,418.5 L511.2,421.0 M515.0,418.5 L510.0,422.2 L503.8,426.0 L498.8,429.8 L493.8,433.5 L490.0,436.5 M490.0,412.2 L497.5,410.5 L505.0,411.0 L511.2,414.0 M490.0,373.5 L497.5,377.2 L505.0,378.5 L512.5,376.0 L517.5,372.2 L522.5,369.8 L530.0,368.5 L537.5,367.2 L543.8,368.5 M530.0,378.5 L535.0,376.0 L541.2,374.0 L546.2,373.0 L543.8,376.0 L538.8,378.5 L533.8,380.5 L530.0,378.5 M521.2,386.8 L527.5,387.2 L533.8,388.5 L538.8,388.0 L532.5,389.5 L525.0,388.5 M527.5,424.8 L535.0,426.0 L542.5,427.2 L548.8,428.0 L541.2,428.5 L532.5,427.2 M545.0,433.5 L551.2,437.2 L556.2,439.8 L560.0,440.5 L552.5,439.0 M515.0,439.8 L520.0,437.2 L525.0,439.8 L522.5,443.5 L517.5,444.8 L520.0,448.5 L526.2,447.2 L530.0,443.5 L527.5,439.8 L532.5,436.0 L537.5,438.5 L541.2,442.2 L538.8,446.0 L533.8,448.5 L530.0,452.2 L525.0,453.5 L520.0,453.0 L516.2,456.0 L521.2,459.0 L527.5,458.5 L532.5,456.0 L537.5,453.5 L542.5,452.2 L547.5,451.0 L551.2,447.2 L548.8,443.5 L543.8,444.8 L540.0,448.5 L543.8,453.0 L548.8,454.8 M517.5,441.0 L523.8,441.5 L528.8,446.0 L523.8,449.8 L518.8,451.0 L525.0,456.0 L531.2,453.5 L536.2,449.8 L541.2,451.0 L546.2,447.2 L550.0,444.8 M521.2,452.2 L527.5,451.0 L533.8,446.0 L538.8,442.2 L535.0,441.0 L530.0,446.0 L527.5,449.8 M500.0,449.8 L505.0,448.0 L510.0,447.2 L508.8,452.2 L503.8,456.0 L501.2,453.5 L500.0,449.8 M502.5,458.5 L508.8,459.8 M490.0,472.2 L497.5,470.5 L505.0,468.5 L512.5,467.2 L520.0,466.0 L527.5,464.8 L535.0,463.5 L542.5,461.5 L548.8,458.5 M543.8,461.0 L541.2,466.0 L538.8,471.0 L537.5,476.0 L530.0,476.0 L522.5,475.5 L515.0,476.0 L507.5,477.2 L501.2,479.8 L499.5,483.5 L502.5,487.2 L507.5,488.5 L508.8,493.5 L506.2,499.8 L501.2,502.2 L496.2,499.8 L492.5,496.0 L490.0,494.0 M490.0,479.8 L493.8,481.0 L492.5,484.0 L490.0,484.8 M530.0,481.0 L533.8,480.5 L535.5,484.8 L534.5,489.8 L537.5,492.2 L535.0,493.0 L532.0,488.5 L530.5,484.8 L530.0,481.0 M552.5,457.2 L557.5,454.0 L563.8,452.2 L570.0,454.8 L575.0,458.5 L578.8,463.0 L576.2,467.2 L571.2,469.0 L566.2,470.5 L562.5,466.0 L558.8,462.2 L555.0,459.8 L552.5,457.2 M588.8,446.0 L592.5,442.2 L596.2,443.5 L600.0,446.0 L603.8,449.8 L607.0,454.8 L608.0,458.5 L603.8,461.5 L598.8,460.5 L595.0,458.5 L598.0,455.5 L596.2,451.0 L592.5,449.8 L590.0,448.0 L588.8,446.0 M590.0,432.2 L593.8,431.0 L597.5,433.5 L600.0,436.0 L596.2,435.5 L592.5,434.0 M581.2,436.0 L586.2,437.2 L583.8,438.5 M591.2,441.0 L595.0,439.8 L598.8,442.2 M593.8,452.2 L597.5,456.0 L601.2,457.2 M561.2,488.5 L565.0,486.5 L568.8,488.5 L565.0,489.8 L561.2,488.5 M612.0,445.5 L613.2,446.5 M627.5,456.0 L628.2,458.0 M628.8,464.0 L630.0,466.0 M615.0,468.0 L618.8,466.5 L622.0,468.5 L618.8,470.0 L615.0,468.0 M632.5,473.5 L636.2,476.0 M613.8,483.5 L617.5,479.8 L622.5,478.5 L626.2,481.0 L625.0,484.8 L628.8,488.0 L626.2,490.5 L621.2,488.5 L617.5,486.5 L613.8,483.5 M618.8,482.2 L622.5,484.0 L623.8,487.2 M660.0,497.2 L663.8,495.5 L668.8,494.0 L666.2,498.0 L665.0,502.2 L666.2,506.0 M567.5,398.5 L572.5,396.5 L578.8,397.2 L573.8,399.0 M560.0,406.5 L565.0,409.0 L570.0,411.0 L576.2,414.0 L570.0,412.5 L564.5,410.5 M577.5,390.5 L581.2,384.8 L583.0,388.0 L580.0,392.2 L577.5,390.5 M600.8,417.2 L602.0,418.0"/>
<path d="M811.2,317.2 L802.5,319.8 L792.5,321.0 L782.5,322.2 L775.0,319.0 L768.8,319.8 L761.2,324.8 L753.8,328.5 L750.0,333.5 L743.8,337.2 L740.0,342.2 L735.0,346.0 L733.0,349.8 L736.2,353.0 L742.5,354.8 L750.0,356.0 L756.2,357.2 L762.5,359.0 L766.2,360.5 M780.0,317.2 L776.2,323.5 L778.8,327.2 L773.8,331.0 L770.0,336.0 L767.0,341.0 L765.5,347.2 L768.0,352.2 L773.8,356.0 L780.0,359.0 L785.0,361.0 L781.2,362.2 L775.0,360.5 L768.8,358.0 M755.0,328.5 L762.5,327.2 L767.5,326.0 L761.2,329.8 L756.2,331.5 M750.0,334.8 L757.5,333.5 L752.5,336.5 M742.5,341.0 L750.0,339.8 L755.0,338.5 L748.8,342.2 M740.0,348.5 L747.5,352.2 L753.8,353.5 L750.0,357.2 L745.0,353.5 M782.5,322.2 L788.8,321.0 L795.0,319.0 L802.5,318.0 L796.2,321.0 L790.0,323.0 M780.0,326.0 L785.0,324.8 L788.8,323.0 L785.0,327.2 M675.0,382.2 L681.2,381.5 L687.5,383.0 L692.5,386.0 L693.8,389.8 L688.8,391.0 L682.5,389.8 L678.8,392.2 L681.2,396.0 L687.5,399.8 L693.8,401.0 L700.0,399.8 L703.8,396.0 L705.0,391.0 L711.2,389.8 L717.5,387.2 L723.8,384.8 L730.0,383.0 L736.2,381.5 L741.2,383.5 L745.0,380.5 L751.2,378.5 L757.5,377.2 L760.0,379.8 L755.0,381.5 L750.0,384.8 L756.2,385.5 L761.2,386.0 L765.0,383.0 L771.2,381.5 L777.5,380.5 L785.0,379.8 L791.2,378.0 L795.0,379.8 L798.8,381.5 L797.5,384.0 L802.5,384.8 L807.5,382.2 L812.0,379.8 L813.8,376.5 L811.2,373.5 L808.8,369.8 L805.0,367.2 L800.0,364.8 L795.0,363.0 L792.5,364.0 L796.2,366.0 L801.2,368.5 L805.0,369.0 M811.2,369.8 L817.5,368.5 L825.0,369.8 L832.5,371.5 L840.0,373.5 L847.0,376.0 M706.2,376.0 L708.8,373.0 L713.8,371.5 L720.0,372.2 L724.5,374.8 L722.5,378.5 L717.5,380.0 L711.2,379.8 L707.0,378.0 L706.2,376.0 M675.0,393.5 L677.5,397.2 L675.0,402.2 M776.2,471.5 L775.0,477.2 L771.2,481.0 L767.5,484.0 L771.2,486.0 L775.0,484.8 L778.8,488.5 L781.2,491.0 L778.0,494.0 L775.0,489.8 L772.5,487.2 M768.0,493.5 L765.0,496.5 L762.5,500.5 L758.8,502.2 L755.5,503.5 M773.8,476.0 L777.5,481.0 L775.0,486.0 L779.5,492.2"/>
<path d="M277.0,480.0 L280.0,481.0 L279.0,484.0 L275.0,486.0 L271.0,485.6 L268.0,488.0 L265.0,491.0 L269.0,493.6 L275.0,495.0 L282.0,494.4 L288.0,495.0 L289.0,497.0 L287.0,500.0 L285.0,504.0 L282.0,507.0 L277.0,509.0 L273.0,511.0 L278.0,511.0 L282.0,509.0 L285.0,512.0 L288.0,515.0 L290.0,518.0 L292.0,521.0 L295.0,523.6 L298.0,526.4 L301.0,529.6 L303.0,533.0 L304.0,536.0 L300.0,535.6 L303.0,538.0 L305.6,541.0 L307.0,543.6 L311.0,544.4 L315.0,545.6 L318.0,548.0 L317.6,551.6 L315.0,554.0 L312.0,556.4 L309.0,557.6 L313.0,559.0 L315.0,561.0 L312.0,563.0 L308.0,565.0 L303.0,565.6 L298.0,566.0 L293.0,565.6 L288.0,566.4 L283.0,567.0 L279.0,568.0 L275.0,568.4 L277.0,566.0 L280.0,564.0 L276.0,563.6 L271.0,565.6 L267.0,568.0 L263.0,570.0 L259.0,572.0 L256.0,574.0 L259.0,571.0 L264.0,568.0 L269.0,565.0 L273.0,563.0 L277.0,561.0 L281.0,558.0 L283.6,556.0 L280.0,557.0 L276.0,559.0 L272.0,558.0 L268.0,557.0 L264.0,556.0 L261.0,554.0 L264.0,552.0 L268.0,551.0 L266.0,548.0 L263.6,545.0 L266.0,542.0 L270.0,540.4 L274.0,539.0 L279.0,538.0 L280.0,534.0 L278.0,530.0 L276.0,527.0 L277.0,523.6 L274.0,522.4 L270.0,523.6 L266.0,524.0 L262.4,522.4 L263.6,519.0 L261.0,517.0 L258.0,515.0 L260.0,512.0 L257.0,510.0 M242.0,495.0 L245.0,490.0 L249.0,487.6 L252.0,489.0 L250.0,493.0 L247.0,496.0 L245.0,499.0 L248.0,500.0 L252.0,497.0 L255.0,494.0 L258.0,492.0 L260.0,495.0 L257.0,499.0 L254.0,502.0 L251.0,505.0 L248.0,507.0 L252.0,508.0 L256.0,506.0 L259.0,503.0 L262.0,500.0 L263.6,504.0 L261.0,508.0 L258.0,511.0 L255.0,513.6 L252.0,515.0 L256.0,516.0 L260.0,514.0 L263.0,511.0 L265.0,508.0 M265.0,491.0 L262.0,494.0 L259.0,497.0 L260.0,500.0 L262.0,498.0 L264.4,495.0 M243.0,492.0 L247.0,493.0 L245.6,497.0 L242.4,498.0 L241.0,495.6 M253.0,500.0 L257.0,502.0 L260.0,506.0 L257.0,509.0 L253.6,511.0 L258.0,513.0 M219.0,530.0 L223.0,528.0 L228.0,525.6 L232.0,523.0 L237.0,521.0 L242.0,520.0 L247.0,519.6 L251.6,521.0 L255.0,522.4 L258.0,525.0 L257.0,528.0 L254.0,530.0 L253.0,534.0 L253.6,539.0 L252.4,544.0 L251.0,548.0 L248.0,551.0 L244.0,552.4 L239.0,553.0 L234.0,554.0 L230.0,555.6 L225.0,557.0 L220.0,558.0 L217.0,556.0 L219.0,553.0 L216.0,551.6 L219.0,550.0 L223.0,549.0 L226.0,547.0 L223.0,544.4 L220.0,542.0 L222.0,539.0 L225.0,537.6 L222.0,535.0 L219.0,533.0 L219.0,530.0 M248.0,526.0 L251.0,524.4 L252.4,527.0 L250.0,529.0 L248.0,526.0 M232.0,524.0 L235.0,527.0 L233.0,530.0 M237.0,536.0 L238.0,539.0 M233.0,543.0 L235.0,544.0 M265.0,529.0 L267.0,528.0 L267.6,530.0 L265.6,531.0 L265.0,529.0 M266.0,539.0 L269.0,538.0 M256.0,573.0 L260.0,571.0 L266.0,569.6 L271.0,570.0 L275.0,572.0 L279.0,574.0 L282.0,573.0 L286.0,576.0 L289.0,579.0 L291.0,582.0 L290.0,585.0 L286.0,586.0 L282.0,587.0 L277.0,587.6 L272.0,588.4 L268.0,589.6 L265.0,592.0 L267.0,595.0 L272.0,597.0 L277.0,599.0 L282.0,601.0 L286.0,603.0 L288.0,606.0 L290.0,610.0 L292.0,614.0 L294.0,619.0 L295.0,622.0 M289.0,579.0 L293.0,580.0 L294.4,575.6 L297.0,575.0 L298.0,580.0 L303.0,579.6 L306.0,577.0 L310.0,574.4 L315.0,572.4 L318.0,569.0 L319.6,565.6 L322.0,564.0 L327.0,562.0 L331.0,560.0 L335.0,557.6 L338.0,555.0 L340.0,551.0 L342.0,547.0 L343.0,543.0 L345.6,540.0 L350.0,538.0 L356.0,537.0 L362.0,536.0 L368.0,535.0 L373.0,533.6 L376.0,530.0 L374.0,526.0 L371.6,521.0 L371.0,515.0 L373.0,509.0 L375.0,504.0 L378.0,501.0 L380.0,500.0 M347.0,545.0 L349.0,543.0 L351.6,544.4 L351.0,548.0 L348.4,549.6 L346.4,547.6 L347.0,545.0 M348.0,546.0 L350.0,547.0 M331.0,560.0 L336.0,559.0 L340.0,558.0 L338.0,556.0 L334.0,558.0 M328.0,564.0 L332.0,567.0 L337.0,569.0 L340.0,572.0 L344.0,574.0 L349.0,576.0 L353.0,579.0 L358.0,581.0 L363.0,583.0 L368.0,584.0 L372.0,585.0 M362.0,536.0 L363.0,540.0 L361.0,545.0 L360.0,550.0 L358.0,554.0 L355.0,557.0 L356.0,561.0 L357.0,565.0 L355.0,568.0 L354.0,572.0 L353.0,576.0 L355.0,579.0 M332.0,560.0 L338.0,562.0 L344.0,563.6 L349.0,562.4 L354.0,561.0 L356.0,564.0 M346.0,473.0 L349.0,471.0 L353.0,470.0 M347.0,476.0 L350.0,479.0 L354.0,482.0 L358.0,486.0 L363.0,489.0 L369.0,490.0 L375.0,488.4 L380.0,486.0 M348.0,474.0 L352.0,476.0 L355.0,479.0 L351.6,479.6 L349.0,477.0 L348.0,474.0 M283.0,578.0 L286.0,579.6 M285.0,582.0 L288.0,583.0"/>
<path d="M227.0,645.0 L230.0,642.0 L235.0,640.0 L238.0,638.0 L243.0,639.0 L248.0,641.0 L254.0,641.6 L260.0,642.0 L266.0,642.4 L272.0,642.0 L278.0,641.6 L284.0,642.0 L289.0,643.0 L292.0,642.4 L292.4,636.0 L293.0,630.0 L293.6,624.0 L294.4,619.0 L292.0,614.0 L289.0,609.0 L286.0,605.0 L283.0,602.0 L280.0,600.0 M294.4,619.0 L296.0,622.0 L298.0,626.0 M292.0,642.4 L295.0,645.0 L300.0,647.0 L306.0,648.0 L312.0,650.0 L318.0,651.6 L324.0,652.4 L328.0,653.6 L330.0,655.0 L329.0,658.0 L327.0,661.0 L323.0,664.0 L318.0,667.0 L313.0,669.0 L309.0,672.0 L306.0,676.0 L303.0,680.0 L301.0,684.0 L303.0,688.0 L304.0,691.0 L301.0,694.0 L299.0,698.0 L297.0,701.0 L294.0,703.0 L290.0,704.0 L288.0,705.0 L284.0,709.0 L279.0,710.4 L273.0,711.0 L267.0,712.0 L262.0,714.0 L259.0,717.0 L257.0,720.0 M227.0,645.0 L228.0,650.0 L230.0,655.0 L231.6,660.0 L231.0,666.0 L230.0,672.0 L229.0,678.0 L227.6,683.0 L226.0,688.0 L228.0,691.0 L230.0,694.0 L230.4,700.0 L230.0,705.0 L229.6,708.0 L234.0,708.0 L239.0,707.6 L242.0,707.0 M227.0,645.0 L225.6,648.0 L228.0,651.0 M232.0,658.0 L237.0,657.0 L242.0,658.0 L248.0,657.6 L253.0,659.0 L254.0,661.6 L250.0,663.0 L247.0,665.0 L246.4,670.0 L245.6,675.0 L244.0,680.0 L242.4,684.0 L244.0,688.0 L245.0,692.0 L243.0,696.0 L242.0,700.0 L241.0,704.0 L242.0,707.0 L246.0,709.0 L249.0,712.0 L251.0,716.0 L254.0,719.0 L257.0,720.0 M257.0,720.0 L254.0,723.0 L252.0,728.0 L251.0,733.0 L248.0,738.0 L244.0,742.0 L239.0,745.0 L234.0,748.0 L230.0,751.0 M257.0,720.0 L260.0,724.0 L264.0,726.4 L270.0,727.6 L276.0,727.0 L282.0,728.0 L286.0,729.0 L291.0,727.0 L296.0,724.0 L302.0,721.0 L307.0,718.0 L312.0,715.6 L318.0,714.0 L324.0,712.4 L330.0,711.0 L336.0,710.0 L342.0,709.6 L348.0,711.0 L353.0,710.0 L358.0,709.0 L364.0,708.0 L370.0,709.0 L376.0,708.0 L380.0,707.0 M286.0,729.0 L288.0,734.0 L289.0,739.0 L290.0,744.0 L291.0,749.0 L292.0,752.0 M372.4,709.0 L373.0,715.0 L374.0,721.0 L373.6,727.0 L371.0,732.0 L368.0,737.0 L367.6,742.0 L370.0,747.0 L372.0,752.0 M324.0,679.0 L327.0,677.6 L330.0,678.4 L332.0,681.0 L329.6,683.0 L326.0,682.4 L324.0,681.0 L324.0,679.0 M337.0,676.0 L339.0,677.0 M315.0,686.4 L317.0,688.0 L315.0,689.0 L315.0,686.4 M330.0,655.0 L331.0,650.0 L330.0,645.0 L328.0,641.0 L330.0,638.0 L334.0,640.0 L340.0,641.0 L346.0,641.6 L350.0,642.4 L356.0,645.0 L358.0,642.0 L362.0,639.0 L364.0,635.0 L363.0,630.0 L361.0,625.0 L360.0,620.0 L358.0,615.0 L356.0,610.0 L358.0,606.0 L360.0,602.0 L362.0,600.0 M281.0,670.0 L282.0,673.0 M269.0,646.0 L274.0,648.0 M253.0,679.0 L259.0,679.6 M260.0,684.0 L263.0,683.0"/>
<path d="M371.0,509.0 L372.0,504.0 L374.0,501.0 L378.0,499.0 L383.0,497.0 L388.0,495.0 L392.0,494.0 L391.0,498.0 L388.0,501.0 L390.0,505.0 L388.0,509.0 L385.0,512.0 L383.0,516.0 L386.0,520.0 L384.0,523.0 L380.0,524.0 L377.0,527.0 L375.0,525.0 L376.0,521.0 L374.0,517.0 L372.4,513.0 L371.0,509.0 M372.0,505.0 L377.0,503.0 L381.0,502.0 L378.0,506.0 L374.0,508.0 L372.0,505.0 M385.0,515.0 L389.0,513.0 L392.0,515.0 L391.0,519.0 L387.0,520.0 L385.0,518.0 L385.0,515.0 M395.0,512.0 L399.0,510.0 L404.0,511.0 L407.0,514.0 L406.0,518.0 L402.0,520.0 L398.0,519.0 L395.6,516.0 L395.0,512.0 M390.0,522.0 L394.0,523.0 L393.0,525.0 L390.0,522.0 M399.0,522.0 L403.0,523.0 L401.0,525.0 L399.0,522.0 M397.0,513.0 L401.0,514.0 L403.0,517.0 L400.0,517.6 M360.0,539.0 L364.0,537.0 L368.0,536.0 L371.0,535.0 L374.0,532.0 L377.0,529.0 L376.0,527.0 M360.0,548.0 L362.0,545.0 L361.0,541.0 M384.0,523.0 L388.0,526.0 L392.0,529.0 L397.0,531.0 L402.0,530.0 L407.0,529.0 L412.0,527.0 L416.0,526.0 L419.0,529.0 L422.0,532.0 L425.0,533.0 L431.0,531.0 L437.0,529.0 L443.0,527.0 L449.0,525.6 L454.0,524.4 L458.0,525.0 L460.0,528.0 L464.0,528.4 L468.0,527.0 L472.0,525.0 L477.0,523.0 L481.0,522.0 L480.0,519.0 L478.0,516.0 L479.0,511.0 L480.0,506.0 L481.0,501.0 L483.0,497.0 L486.0,494.0 L490.0,492.4 L494.0,494.0 L498.0,498.0 L503.0,500.0 L508.0,499.0 L513.0,496.0 L516.0,492.0 L518.0,490.0 M415.0,527.0 L417.0,528.4 L418.0,527.0 L416.0,526.0 M472.0,527.0 L480.0,528.0 L488.0,528.4 L496.0,529.0 L500.0,530.0 L502.0,535.0 L503.6,540.0 L502.4,546.0 L501.0,551.0 L502.4,556.0 L503.6,561.0 L505.0,566.0 L503.0,570.0 L500.0,574.0 L497.0,578.0 L494.0,582.0 L492.0,585.0 L490.0,589.0 M425.0,533.0 L424.0,538.0 L425.0,543.0 L427.0,548.0 L426.0,553.0 L428.0,558.0 L429.0,563.0 L434.0,566.0 L439.0,568.0 L444.0,570.0 L449.0,571.0 L453.0,573.0 L458.0,575.0 L462.0,578.0 L467.0,579.0 L472.0,581.0 L478.0,582.0 L484.0,582.4 L490.0,583.0 L493.0,584.0 M407.6,549.0 L409.0,548.6 M412.4,548.4 L414.0,549.6 M419.0,551.0 L420.0,551.6 M422.0,553.0 L423.0,553.6 M411.0,541.0 L411.6,541.6 M429.0,563.0 L424.0,565.0 L419.0,566.0 L413.0,568.0 L408.0,570.0 L405.0,571.6 L407.0,575.0 L409.0,579.0 L412.0,583.0 L416.0,587.0 L420.0,586.0 L424.0,585.0 L429.0,583.6 L434.0,585.0 L439.0,586.0 L443.0,588.0 L445.0,591.0 L446.0,594.0 M446.0,594.0 L451.0,596.0 L456.0,595.0 L461.0,593.0 L466.0,591.0 L472.0,589.0 L478.0,588.0 L484.0,588.4 L490.0,589.0 L493.0,591.0 L498.0,593.0 L504.0,594.0 L510.0,595.0 L515.0,594.4 L520.0,593.0 L525.0,592.0 L529.0,594.0 L532.0,599.0 L535.0,604.0 L538.0,609.0 L540.0,613.0 M416.0,587.0 L414.0,591.0 L413.0,596.0 L410.0,599.0 L405.0,600.0 L400.0,599.6 L396.0,601.0 L393.0,599.6 M393.0,599.6 L397.0,604.0 L402.0,606.0 L408.0,607.6 L414.0,608.4 L420.0,609.0 L426.0,609.6 L432.0,609.0 L437.0,608.0 L441.0,606.0 L443.0,602.0 L442.0,598.0 L444.0,595.0 L446.0,594.0 M441.0,606.0 L444.0,610.0 L448.0,612.4 L453.0,615.0 L458.0,617.0 L464.0,616.0 L470.0,614.4 L476.0,613.0 L480.0,611.0 L483.0,607.0 L485.6,602.0 L488.0,597.0 L491.0,594.0 L493.0,591.0 M448.0,607.0 L452.0,605.0 L455.6,604.0 L453.0,606.4 L449.0,608.0 L448.0,607.0 M480.0,611.0 L478.0,616.0 L480.0,621.0 L483.0,626.0 L488.0,630.0 L492.0,633.0 L493.0,638.0 L492.0,642.0 M414.0,608.4 L417.0,612.0 L418.0,617.0 L420.0,621.0 L424.0,624.0 L427.0,628.0 M360.0,602.0 L364.0,601.0 L370.0,600.0 L376.0,600.4 L382.0,599.6 L388.0,600.4 L393.0,599.6 M427.0,628.0 L430.0,631.0 L433.0,635.0 L436.0,639.0 L439.0,642.0 M427.0,628.0 L423.0,627.0 L419.0,626.0 L416.0,628.0 L414.0,632.0 L415.0,637.0 L417.0,642.0 M425.0,626.0 L427.0,629.0 L429.0,628.0 L427.0,626.4 M399.0,490.0 L402.0,494.0 L405.0,499.0 L408.0,503.0 L411.0,507.0 L412.4,511.0 L411.6,515.0 L414.0,516.0 L418.0,514.0 L422.0,512.0 L427.0,510.0 L432.0,509.0 L437.0,507.6 L441.0,506.0 L444.0,502.0 L446.0,497.0 L447.0,492.0 L448.0,490.0 M427.0,520.0 L429.0,519.0 L430.4,521.0 L428.4,522.0 L427.0,520.0 M455.0,497.0 L458.0,494.0 L462.0,492.0 L465.0,493.0 L462.0,497.0 L459.0,500.0 L456.0,501.0 L455.0,497.0 M418.4,502.0 L419.6,504.0 M426.0,504.0 L427.6,505.6 M505.0,523.0 L506.4,524.4 M484.0,533.0 L486.0,535.0 M442.0,504.0 L444.0,500.0 M449.0,606.0 L452.0,604.4"/>
<path d="M557.0,561.0 L559.0,563.0 L558.0,567.0 L560.0,568.0 M566.0,576.0 L570.0,579.0 L575.0,581.0 L580.0,583.0 L586.0,585.6 L591.0,587.6 L597.0,589.0 L597.6,594.0 L597.0,599.0 L593.0,600.0 L589.0,599.6 L587.0,602.0 M568.0,577.6 L573.0,580.4 L578.0,582.4 M580.0,584.0 L585.0,586.0 M520.0,594.0 L525.0,592.0 L529.0,593.0 L533.0,597.0 L537.0,602.0 L539.0,608.0 L540.0,614.0 L542.0,619.0 L546.0,622.0 L550.0,621.0 L553.0,618.0 L552.0,613.0 L555.0,612.0 L559.0,610.0 L562.0,608.0 M546.0,622.0 L545.0,630.0 L544.0,635.0 L543.0,640.0 L542.0,642.0 M550.0,621.0 L555.0,615.0 L560.0,611.0 L565.0,610.0 L567.0,611.0 L572.0,613.0 L578.0,614.0 L584.0,615.0 L589.0,614.0 L593.0,611.0 L596.0,610.0 M589.0,615.0 L584.0,618.0 L579.0,620.0 L576.0,622.4 L580.0,624.4 L584.0,627.0 L583.0,630.0 L587.0,631.0 L592.0,629.0 L597.0,627.0 L602.0,626.0 L607.0,624.4 L612.0,623.6 L616.0,624.4 L613.0,622.0 L608.0,621.0 L603.0,621.6 L599.0,620.0 L596.0,617.0 L595.0,613.0 M597.0,610.0 L602.0,608.0 L608.0,606.4 L614.0,605.0 L620.0,603.6 L626.0,602.4 L631.0,604.0 L628.0,607.0 L624.0,608.4 L620.0,610.0 L622.0,613.0 L624.0,616.0 L621.0,618.0 L618.0,621.0 L616.0,624.4 L620.0,628.0 L625.0,631.0 L630.0,634.0 L635.0,637.6 L639.0,641.0 M588.0,613.0 L592.0,614.4 L596.0,613.6 M592.0,616.0 L597.0,618.0 M696.0,554.0 L692.0,556.0 L688.0,559.0 L686.0,563.0 L687.0,567.0 L685.0,570.0 L691.0,571.0 L687.0,573.0 L683.0,575.0 L681.0,579.0 L679.0,583.0 L677.0,587.0 L675.6,590.0 M668.0,579.0 L671.0,582.0 L669.0,586.0 L666.0,589.0 L664.0,592.0 L663.0,595.0 L660.0,597.0 L657.0,599.0 L658.0,596.0 L661.0,594.0 L663.0,591.0 M660.0,497.0 L664.0,496.0 L669.0,494.0 L667.0,499.0 L665.0,503.0 L664.0,506.0 L663.0,501.0 L660.0,497.0 M534.0,490.0 L537.0,492.0 L539.0,491.0 M563.0,490.0 L568.0,490.4 M624.0,490.0 L629.0,490.6 M700.0,618.0 L697.0,623.0 L695.0,628.0 L698.0,632.0 L699.0,638.0 L700.0,642.0"/>
<path d="M491.0,630.0 L494.0,634.0 L498.0,637.0 L504.0,638.0 L510.0,638.4 L516.0,638.0 L522.0,636.0 L528.0,635.0 L534.0,635.6 L540.0,637.0 L543.0,639.0 M476.0,614.0 L480.0,618.0 L485.0,624.0 L491.0,630.0 L493.0,636.0 L492.0,642.0 L491.0,648.0 L493.0,654.0 L495.0,660.0 L497.0,662.4 L502.0,661.0 L508.0,660.0 L514.0,660.4 L520.0,662.0 L524.0,660.0 L528.0,657.0 L533.0,656.0 L536.0,658.0 L539.0,660.0 M543.0,639.0 L541.0,643.0 L538.0,647.0 L536.0,652.0 L535.0,656.0 L539.0,660.0 L543.0,662.4 L548.0,665.0 L560.0,665.0 L566.0,664.0 L572.0,661.0 L578.0,659.0 L584.0,658.0 L590.0,657.0 L595.0,656.0 L600.0,658.0 L603.0,660.0 L606.0,663.0 L610.0,665.0 L615.0,666.0 L620.0,665.0 M543.0,639.0 L544.0,633.0 L545.0,627.0 L548.0,622.0 L551.0,618.0 L554.0,615.0 L558.0,612.0 M440.0,608.0 L446.0,611.0 L452.0,613.0 L460.0,614.0 L468.0,614.4 L476.0,614.0 L480.0,611.0 L483.0,606.0 L486.0,601.0 L487.0,600.0 M532.0,600.0 L537.0,604.0 L539.0,610.0 L538.0,616.0 L540.0,620.0 L546.0,622.0 L551.0,618.0 M524.0,671.0 L529.0,670.0 L534.0,669.0 L540.0,668.0 L546.0,667.0 L549.0,669.0 L544.0,670.4 L539.0,671.6 L534.0,672.4 L529.0,673.6 L525.0,674.4 L522.0,675.0 L524.0,671.0 M479.0,669.0 L483.0,667.0 L488.0,665.0 L493.0,663.6 L497.0,662.4 M472.0,652.0 L474.0,657.0 L475.6,662.0 L477.0,666.0 L479.0,669.0 L478.0,673.0 L476.0,677.0 L474.0,680.0 M466.0,650.0 L469.0,655.0 L470.0,660.0 L471.0,666.0 L472.0,672.0 L473.0,678.0 L474.0,682.0 L477.0,686.0 L479.0,690.0 L482.0,694.0 L485.0,698.0 L487.0,702.0 L485.0,705.0 L487.0,709.0 L490.0,712.0 L493.0,715.0 L495.0,717.0 M483.0,696.0 L487.0,698.0 L491.0,700.0 L495.0,702.0 L498.0,704.0 L500.0,708.0 L498.0,712.0 L496.0,715.0 L494.0,718.0 M488.0,704.0 L491.0,707.0 L492.4,711.0 L491.6,715.0 M493.0,672.0 L496.0,670.0 L500.0,669.0 L504.0,670.0 L508.0,669.0 L512.0,668.0 L516.0,669.0 L520.0,668.0 L523.0,670.0 M500.0,672.0 L503.0,675.0 L501.0,677.0 M505.0,673.0 L507.6,676.0 M493.0,672.0 L494.0,677.0 L497.0,682.0 L500.0,686.0 L503.0,690.0 L506.0,693.0 L510.0,696.0 L513.0,699.0 L511.0,701.0 L507.0,699.0 L503.0,696.0 L500.0,693.0 L497.0,690.0 M500.0,688.0 L504.0,691.0 L509.0,695.0 L513.0,698.0 M508.0,676.0 L511.0,677.0 M513.0,682.0 L515.0,681.0 M509.0,688.0 L510.0,689.6 M517.0,693.0 L520.0,694.0 M515.0,708.0 L519.0,709.0 L517.0,711.0 M522.0,702.0 L524.0,701.0 M509.0,710.0 L512.0,711.0 M524.0,713.0 L527.0,714.0 M514.0,686.0 L516.0,687.6 M519.0,700.0 L521.0,701.6 M506.0,704.0 L508.0,705.6 M522.0,675.0 L523.0,679.0 L521.0,682.0 L525.0,684.0 L528.0,682.0 L526.0,686.0 L523.0,689.0 L527.0,691.0 L529.0,694.0 L526.0,696.0 L529.0,699.0 L532.0,702.0 L530.0,705.0 L534.0,707.0 L537.0,710.0 L535.0,713.0 L539.0,715.0 L542.0,716.0 L540.0,719.0 L537.0,717.0 M520.0,684.0 L524.0,687.0 L522.0,690.0 M528.0,708.0 L532.0,711.0 L536.0,715.0 M500.0,724.0 L504.0,722.4 L509.0,723.6 L514.0,725.0 L519.0,726.0 L524.0,725.6 L522.0,728.0 L517.0,728.4 L511.0,728.0 L506.0,727.0 L502.0,726.0 L500.0,724.0 M529.0,721.0 L531.0,723.0 L528.0,725.0 M498.0,720.0 L499.6,721.0 M537.0,717.0 L542.0,718.0 L548.0,717.0 L553.0,715.6 L556.0,714.0 L558.0,711.0 L561.0,709.6 L566.0,711.0 L572.0,714.0 L578.0,716.0 L584.0,715.0 L590.0,713.0 L596.0,711.0 L601.0,710.0 L604.0,711.0 L605.0,715.0 M605.0,715.0 L610.0,714.0 L616.0,713.0 L620.0,712.0 M560.0,695.0 L562.0,698.0 L561.0,700.0 M566.0,698.0 L568.0,701.0 M581.0,686.0 L584.0,689.0 L582.4,692.0 L580.6,689.0 L581.0,686.0"/>
<path d="M265.0,726.0 L272.5,726.5 L280.0,728.0 L287.5,728.5 L295.0,724.0 L302.5,719.8 L312.0,715.5 L320.0,712.5 L330.0,711.0 L340.0,709.8 L348.0,710.5 L355.0,709.0 L362.5,708.0 L370.0,708.5 L377.5,707.0 L385.0,706.0 L388.8,707.2 L392.5,709.8 L395.0,714.8 L393.8,719.8 L396.2,724.8 L395.0,729.8 L391.2,733.5 L388.8,737.2 L390.0,741.0 L393.8,743.0 L397.5,746.0 L400.0,749.8 L407.5,750.5 L415.0,752.2 L422.5,754.0 L428.8,756.5 L432.5,761.0 L435.0,765.5 L440.0,768.5 L446.2,770.5 L452.5,772.2 L457.5,774.8 L462.5,777.2 L467.5,776.5 L471.2,772.2 L472.0,767.2 L470.0,762.2 L472.5,757.2 L477.5,753.5 L483.8,751.5 L490.0,752.2 M287.5,728.5 L288.8,733.5 L290.0,741.0 L291.2,748.5 L294.5,754.8 L290.0,758.5 L282.5,760.5 L275.0,763.0 L271.2,766.0 L272.5,769.8 L267.5,772.2 L265.0,774.0 M374.5,708.5 L373.8,716.0 L373.0,723.5 L371.2,729.8 L367.5,736.0 L366.2,742.2 L368.8,747.2 L372.5,752.2 L376.2,757.2 L378.8,763.5 L380.5,769.8 L382.0,776.0 L383.0,779.8 M400.0,749.8 L400.0,754.8 L396.2,758.5 L392.5,762.2 L389.5,766.0 L388.0,771.0 L387.0,775.5 L383.0,779.8 L385.0,786.0 L386.2,793.5 L385.5,801.0 L387.0,808.5 L384.5,814.8 L382.5,819.8 L385.0,826.0 L387.5,832.2 L390.0,837.2 L395.0,839.8 L400.0,843.5 L403.8,848.0 M403.8,848.0 L410.0,849.8 L416.2,852.2 L422.5,856.0 L430.0,852.2 L437.5,848.0 L447.5,853.5 L457.5,859.0 L467.5,864.8 L477.5,871.0 L490.0,878.5 M430.0,853.5 L431.2,861.0 L433.0,868.5 L436.2,876.0 L437.5,882.2 M403.8,848.0 L395.0,853.5 L385.0,861.0 L375.0,868.5 L365.0,877.2 L358.8,883.0 M265.0,833.0 L275.0,841.0 L285.0,849.8 L295.0,858.5 L305.0,867.2 L312.5,872.2 L315.0,877.2 L318.8,881.0 L323.8,883.0 M403.2,710.5 L404.5,711.5 M393.8,741.0 L395.5,742.5"/>
<path d="M513.0,766.0 L513.0,783.5 L513.0,808.5 L513.0,833.5 L513.0,863.0 L513.0,883.5 M513.0,863.0 L540.0,863.0 L565.0,863.0 L582.5,863.0 L585.0,865.5 L588.8,863.0 L600.0,862.2 L611.2,862.2 M490.0,754.8 L497.5,758.5 L505.0,761.5 L513.0,764.0 L520.0,767.2 L527.5,769.0 L535.0,770.5 L542.5,769.8 L550.0,768.5 L555.0,766.0 L560.0,764.8 L565.0,765.5 L570.0,768.0 L576.2,769.0 L582.5,768.5 L588.8,767.2 L592.5,765.5 L596.2,763.0 L600.0,759.8 L601.2,752.2 L602.5,744.8 L604.5,737.2 L607.0,731.0 L605.5,723.5 L603.8,716.0 L605.5,711.0 L607.5,708.5 M605.5,711.0 L607.5,708.5 L610.0,711.0 L608.8,714.8 M573.8,727.2 L577.5,725.5 L583.8,724.0 L588.8,722.2 L593.0,721.0 L590.0,724.0 L586.2,726.0 L588.0,728.5 L583.8,730.5 L578.8,731.0 L575.0,729.8 L573.8,727.2 M573.2,778.2 L575.8,785.0 L579.2,791.8 L582.5,798.2 L585.8,805.0 L588.2,811.8 L590.8,818.2 L593.2,825.0 L596.8,831.8 L599.2,837.5 L601.8,842.5 L600.8,848.2 L600.0,853.2 L605.8,856.8 L611.8,861.8 L613.2,868.2 L614.2,876.8 L613.2,883.2 M600.0,853.2 L596.8,855.0 L594.2,858.2 L590.0,861.8 L587.5,864.2 L584.2,865.8 L581.8,863.8 M593.2,760.0 L595.0,766.8 L595.8,775.0 L596.8,781.8 L595.8,788.2 L594.2,795.0 L592.5,801.8 L590.0,800.0 L586.8,795.8 L583.2,790.8 L580.0,785.8 L576.8,780.8 L574.2,776.8 M595.0,795.8 L597.5,800.0 L600.0,805.0 L603.2,811.8 L606.8,818.2 L609.2,824.2 L611.8,826.8 L613.2,831.8 L615.8,837.5 L620.0,840.8 L624.2,845.0 L627.5,850.8 L630.0,856.8 L630.8,863.2 L630.0,870.0 L633.2,876.8 L638.2,881.8 L640.8,884.2 M562.5,868.2 L565.0,863.2 L568.2,858.2 L573.2,855.8 L577.5,853.2 L579.2,848.2 L578.8,843.2 L580.0,850.0 L577.5,855.0 L572.5,858.2 L567.5,861.8 L565.0,866.8 L562.5,868.2 M601.2,752.2 L602.5,758.5 L600.0,766.0 L598.8,773.5 L597.5,778.5 M592.5,765.5 L595.0,771.0 L597.0,777.2 L597.5,778.5 M602.5,744.8 L607.5,742.2 L610.0,738.5 L608.8,733.5 L606.2,731.0 M608.8,714.8 L617.5,713.5 L627.5,712.2 L637.5,711.0 L645.0,708.5 L650.0,707.2 L655.0,708.5 M602.5,758.5 L610.0,757.2 L617.5,753.5 L625.0,748.5 L628.8,746.0 L635.0,741.0 L642.5,736.0 L647.5,731.0 L648.8,723.5 L650.0,716.0 L652.5,709.8 L655.0,708.5 M628.8,746.0 L631.2,753.5 L626.2,756.0 L620.0,758.5 L615.0,763.5 L620.0,769.8 L621.2,774.8 L616.2,779.8 L610.0,783.5 L603.8,787.2 L600.0,792.2 L600.0,796.0 M631.2,753.5 L640.0,759.8 L650.0,767.2 L660.0,774.8 L667.5,779.8 L675.0,784.8 L680.0,789.0 L687.5,791.0 L695.0,788.5 L706.2,779.8 M677.5,786.0 L683.8,792.2 L692.5,789.8 L687.5,784.8 L677.5,786.0 M676.2,696.0 L677.5,703.5 L680.0,709.8 L683.8,716.0 L687.5,721.0 L690.0,727.2 L688.8,733.5 L691.2,739.8 L693.8,746.0 L697.5,752.2 L701.2,758.5 L703.8,766.0 L705.0,773.5 L706.2,779.8 M662.5,736.0 L665.0,739.8 L666.2,743.5 M557.5,786.0 L561.2,785.5 M677.5,696.0 L680.0,702.2 L682.5,706.0 L685.0,701.0 L683.8,696.0"/>
<path d="M675.0,696.0 L678.8,703.5 L682.5,711.0 L686.2,718.5 L685.0,726.0 L683.8,733.5 L687.5,741.0 L692.5,748.5 L697.5,756.0 L701.2,763.5 L703.8,771.0 L705.0,778.5 M705.0,778.5 L712.5,777.2 L718.8,778.5 L723.8,782.2 L727.5,788.5 L731.2,794.8 L736.2,799.8 L741.2,804.8 L746.2,808.5 L751.2,812.2 L755.0,815.5 L761.2,816.5 L766.2,813.5 L771.2,811.0 L776.2,810.5 L780.0,813.5 L781.2,819.8 L782.5,824.8 L790.0,826.0 L797.5,827.2 L805.0,828.5 L812.5,829.8 L820.0,830.5 L827.5,829.8 L835.0,830.5 L842.5,829.8 L847.0,829.8 M705.0,778.5 L706.2,783.5 L705.0,788.5 L708.8,796.0 L712.5,802.2 L716.2,808.5 L720.0,814.8 L723.8,821.0 L726.2,827.2 L728.8,833.5 L731.2,838.5 L735.0,841.0 L741.2,841.5 L747.5,839.8 L753.8,840.5 L758.8,837.2 L763.8,833.5 L767.5,828.5 L771.2,823.5 L773.8,818.5 L775.0,821.0 L776.2,828.5 L778.8,834.8 L782.5,839.8 L787.5,843.5 L792.5,846.0 L797.5,849.8 L801.2,854.8 L803.8,859.8 L802.5,866.0 L800.0,871.0 L797.5,876.0 L793.8,879.8 L790.0,882.2 L787.5,883.0 M728.8,826.0 L731.2,821.0 L734.5,822.2 L735.5,828.5 L733.8,834.8 L731.2,837.2 M790.0,882.2 L793.8,877.2 L796.2,881.0 L792.5,883.0 M772.5,819.8 L775.5,818.0 L777.0,821.0 M782.5,696.0 L787.5,699.8 L795.0,702.2 L802.5,703.5 L808.8,707.2 L813.8,712.2 L815.0,718.5 L814.5,726.0 L811.2,733.5 L810.0,741.0 L811.2,748.5 L815.0,756.0 L818.8,763.5 L820.0,771.0 L816.2,777.2 L812.5,782.2 L816.2,787.2 L821.2,792.2 L826.2,796.0 L828.8,802.2 L831.2,809.8 L827.5,814.8 L822.5,818.5 L820.0,823.5 L818.8,829.8 M815.0,718.5 L821.2,723.5 L827.5,726.0 L833.8,721.0 L840.0,717.2 L845.0,711.0 L847.0,706.0 M812.5,782.2 L820.0,781.0 L827.5,782.2 L835.0,783.5 L842.5,783.0 L847.0,782.2 M712.5,696.0 L716.2,701.0 L721.2,706.0 L727.5,709.0 L735.0,710.5 L742.5,709.8 L750.0,708.0 L755.0,704.8 L756.2,699.8 L761.2,697.2 M680.0,696.0 L682.5,701.0 L685.0,704.8 L683.8,699.8 L680.0,696.0 M702.5,779.8 L706.2,782.2 L711.2,780.5 L715.0,778.5"/>
<path d="M737.5,514.8 L731.2,517.2 L723.8,517.2 L716.2,517.2 L712.5,521.0 L710.0,526.0 L708.8,531.0 L712.5,533.5 L717.5,531.0 L721.2,529.8 L715.0,534.8 L720.0,538.0 L713.8,539.8 M708.8,544.8 L705.5,549.0 L702.5,552.2 M696.2,554.8 L691.2,556.0 L687.5,559.8 L686.2,564.8 L685.0,569.8 L691.2,571.5 L685.0,573.5 M682.5,577.2 L680.0,581.0 L677.5,585.5 L675.5,589.0 M671.2,579.8 L668.8,583.5 L670.0,587.2 L666.2,589.8 L665.0,593.5 L661.2,596.0 L657.0,599.0 L658.8,594.8 L662.5,592.2 M747.5,606.0 L742.5,604.8 L736.2,604.0 L730.0,605.5 L723.8,608.0 L717.5,611.0 L711.2,614.8 L705.0,617.2 L700.0,618.5 L698.8,623.5 L695.0,628.5 L696.2,633.5 L700.0,638.5 L701.2,644.8 L703.8,651.0 L707.5,656.0 L711.2,661.0 L715.0,666.0 L718.8,669.8 L723.8,673.0 L720.0,676.0 L718.8,681.0 L716.2,686.0 L713.8,691.0 L712.5,696.0 M747.5,606.0 L748.8,611.0 L747.5,616.0 L746.2,621.0 L741.2,621.5 L736.2,621.5 L731.2,623.5 L726.2,626.0 L723.8,626.5 L728.8,628.0 L733.8,629.0 L727.5,630.5 L725.0,632.2 L728.8,636.0 L731.2,641.0 L735.0,644.8 L740.0,647.2 L743.0,651.0 L742.5,656.0 L745.0,659.8 L744.5,666.0 L746.2,671.0 L747.5,677.2 L750.0,682.2 L752.5,687.2 L753.8,693.5 L755.0,696.0 M745.0,659.8 L748.8,656.0 L754.5,655.5 L757.5,659.8 L761.2,664.8 L759.5,668.5 L755.0,669.8 L750.0,668.0 L746.2,666.0 M747.5,678.5 L751.2,681.0 L749.5,684.8 M750.0,686.0 L753.0,689.8 M791.2,642.2 L790.0,636.0 L789.5,629.8 L791.2,623.5 L793.8,618.5 L797.5,614.8 L802.0,611.0 L806.2,608.5 L812.5,608.0 L817.5,606.5 L819.5,608.5 L816.2,612.2 L815.0,617.2 L818.8,621.0 L821.2,625.5 L817.5,628.5 L813.8,632.2 L812.5,637.2 L808.8,641.0 L803.8,642.2 L800.0,639.8 L795.0,638.5 L792.5,642.2 L791.2,642.2 M797.5,624.2 L798.8,625.5 M802.5,618.5 L805.0,618.0 L805.5,620.0 L803.0,620.5 M806.2,612.2 L812.5,611.0 L816.2,609.8 M793.8,554.8 L796.2,551.0 L797.5,556.0 L793.8,556.0 L793.8,554.8 M640.0,642.2 L645.0,644.8 L650.0,649.8 L652.5,656.0 L650.0,661.0 L645.0,664.8 L640.0,667.2 M652.5,662.2 L658.8,661.0 L663.8,663.5 L667.5,668.5 L670.0,674.8 L671.2,681.0 L675.0,684.8 L680.0,688.5 L687.5,687.2 L693.8,684.8 L700.0,681.0 L706.2,679.8 L708.8,684.8 L711.2,691.0 L713.8,694.8 M700.0,681.0 L703.8,686.0 L706.2,691.0 M692.5,667.2 L696.2,669.0 M678.8,671.0 L682.5,673.0 L685.0,676.0 L681.2,675.5 L678.8,671.0 M657.5,692.2 L661.2,689.8 L666.2,688.5 L668.8,691.0 L665.0,693.5 L657.5,692.2 M671.2,681.0 L672.5,688.5 L673.8,696.0"/>
<path d="M159.5,751.5 L162.5,753.0 L165.0,754.0 M166.5,748.5 L167.5,749.5 M153.8,792.2 L155.5,795.5 L153.8,796.5 L153.8,792.2 M152.0,803.5 L154.5,804.8 L152.5,805.5 L152.0,803.5 M160.0,799.8 L162.5,798.5 L164.5,800.5 L162.0,801.5 L160.0,799.8 M165.0,796.0 L168.8,795.5 L170.0,798.0 L167.0,802.2 L164.5,801.0 L166.2,798.5 L165.0,796.0 M171.2,800.5 L174.5,799.8 L175.5,803.0 L172.5,804.0 L171.2,800.5 M182.5,799.8 L186.2,796.0 L188.8,792.2 L191.2,787.2 L190.0,792.2 L188.0,797.2 L185.0,800.5 L182.5,799.8 M257.0,720.0 L254.0,723.0 L252.0,728.0 L251.0,733.0 L248.0,738.0 L244.0,742.0 L239.0,745.0 L234.0,748.0 L230.0,751.0 L226.2,756.0 L225.0,762.2 L222.5,768.5 L223.8,774.8 L221.2,781.0 L218.8,786.0 L215.0,791.0 L210.0,794.8 L205.0,798.0 L200.0,800.5 L195.0,803.0 L192.5,806.0 L191.2,811.0 L188.8,816.0 L183.8,819.8 L181.2,824.8 L178.8,831.0 L176.2,837.2 L172.5,842.2 L170.0,847.2 L167.5,853.5 L164.5,858.5 L162.0,862.2 L161.2,868.5 L160.5,874.8 L163.8,878.5 L167.5,882.2 M193.8,804.8 L210.0,804.8 L231.2,804.8 L231.2,796.0 L237.5,791.0 L245.0,786.0 L252.5,783.0 L260.0,779.8 L265.0,775.5 M231.2,804.8 L231.2,821.0 L203.8,821.0 L203.8,848.5 L196.2,851.0 L193.8,856.0 L195.0,869.8 L161.2,869.8 M231.2,809.8 L247.5,821.0 L265.0,833.0 M248.8,832.2 L265.0,832.2 M248.8,832.2 L251.2,858.5 L253.8,882.2 M230.0,696.0 L228.8,702.2 L228.0,708.0 L235.0,707.2 L240.0,706.0 L242.5,701.0 L243.8,696.0 M240.0,706.0 L247.5,709.8 L252.5,714.8 L257.0,720.0 L260.0,714.8 L265.0,713.5 M257.5,721.0 L261.2,726.0 L265.0,727.2 M89.5,699.0 L93.0,700.0 M87.5,700.0 L90.0,701.0"/>
<path d="M65.0,692.2 L69.5,691.0 M74.5,690.0 L78.8,690.5"/>
<path d="M366.4,638.2 L372.3,636.1 L378.1,632.0 L385.6,635.6 L389.8,641.3 L391.5,647.5 L396.5,652.7 L402.4,656.8 L406.5,659.9 L412.4,664.5 L417.4,664.5 L420.7,668.7 L423.3,671.3 L428.3,675.4 L434.1,676.9 L435.8,682.6 L438.3,687.8 L436.2,691.9 L434.5,698.1 L438.3,698.6 L442.1,694.0 L442.5,689.8 L447.1,687.8 L446.7,683.7 L442.1,680.6 L443.3,675.4 L445.4,672.3 L453.3,674.4 L457.1,679.5 L458.4,675.9 L454.2,670.7 L447.5,667.1 L437.5,662.5 L436.6,660.4 L439.1,657.8 L433.3,657.6 L429.1,656.8 L422.4,651.6 L417.4,640.8 L411.6,636.7 L407.4,633.6 L406.1,627.9 L407.4,624.8 L406.5,621.7 L413.2,619.1 L417.4,618.1 L419.1,619.6 M419.1,619.6 L416.6,621.2 L417.4,625.8 L419.9,627.9 L422.4,624.8 L424.1,622.7 L428.3,625.8 L430.8,633.0 L436.6,639.2 L440.8,641.3 L447.5,646.5 L450.8,647.5 L455.0,650.1 L460.9,653.7 L465.9,656.8 M424.1,626.3 L424.5,629.9 M425.8,625.3 L427.4,628.9 M428.3,631.0 L431.6,636.1 M431.6,637.2 L436.6,640.8 M440.8,643.4 L447.5,645.2 M442.5,647.0 L447.5,647.0 M448.3,648.5 L452.5,649.6 M407.8,700.2 L409.9,697.1 L415.3,696.0 L420.7,698.1 L429.1,696.6 L434.1,695.5 L431.6,702.2 L429.9,705.3 L431.6,708.4 L429.9,712.1 L424.9,710.5 L419.9,707.4 L412.4,702.8 L407.8,700.2 M372.3,667.6 L375.6,668.2 L380.6,664.5 L384.0,667.1 L385.6,672.3 L384.4,678.5 L384.0,685.7 L379.8,685.7 L378.1,688.8 L374.8,688.8 L373.9,684.7 L374.8,678.5 L373.9,673.3 L372.3,671.3 L372.3,667.6 M382.3,646.5 L383.1,651.6 L383.6,655.8 L382.3,660.9 L380.6,663.3 L377.3,660.9 L375.6,656.8 L375.2,652.7 L376.9,650.6 L379.8,649.1 L381.5,649.1 L381.9,646.5 M388.2,648.5 L390.7,649.1 M423.7,719.3 L424.9,720.3 M366.4,638.2 L368.1,634.6 L362.2,633.0 L361.4,627.9 L362.2,623.8 L362.2,617.0 L369.3,616.0 L374.4,611.4 L378.1,617.0 L381.5,610.8 L388.2,612.9 L391.1,606.7 L397.3,605.7 L405.7,604.6 L407.8,608.3 L418.2,610.3 L415.7,613.4 L417.4,616.5 L419.1,619.6 M362.2,617.0 L360.6,611.4 L355.1,613.4 L354.7,609.8 L361.4,602.1 L367.3,599.0 L374.8,597.4 L383.6,599.5 L384.0,604.6 L391.1,606.7 M367.3,599.0 L367.3,591.7 L372.3,584.5 L365.6,582.4 L357.2,579.3 L352.2,578.8 L345.5,576.2 L338.8,574.2 L330.5,569.0 L325.0,562.8 M357.2,579.3 L354.7,573.1 L353.9,566.4 M383.6,599.5 L389.0,602.1 L395.7,601.0 L405.7,598.5 L412.4,600.0 L410.7,593.8 L419.1,587.1 M465.9,656.8 L467.6,651.6 L471.7,649.6 L475.1,654.7 L475.9,657.8 L475.1,664.0 L476.7,668.2 L479.3,668.7 M470.9,680.6 L474.2,677.5 L477.6,674.4 L479.3,668.7 L487.6,665.6 L495.1,663.5"/>
</g>
<g fill="none" stroke="#000" stroke-width="1.35" stroke-linejoin="round">
<g clip-path="url(#t1)">
<path d="M30.0,508.5 L53.0,513.5 L72.5,518.0 L90.0,523.0 L110.0,528.5 L125.0,532.0 L140.0,534.5 L153.8,537.0 L165.0,532.2 L173.8,529.8 L180.0,530.2 L190.0,533.0 L202.5,537.0 L215.0,542.5 L225.0,546.5 L240.0,551.5 L252.5,558.5 L265.0,566.8 L275.0,573.5 L275.0,693.5 L265.0,690.5 L255.0,687.2 L245.0,683.5 L235.0,680.5 L225.0,678.5 L215.0,678.0 L205.0,678.5 L195.0,678.0 L190.0,677.2 L180.5,677.0 L171.2,678.0 L165.0,679.8 L157.5,681.8 L150.0,683.0 L146.2,681.0 L150.0,678.5 L152.5,675.5 L150.0,673.0 L147.5,674.0 L146.2,668.5 L143.8,667.2 L140.0,671.0 L136.2,672.2 L132.5,669.8 L126.2,668.5 L122.5,669.8 L120.0,673.0 L115.0,676.0 L110.8,678.8 L106.8,686.8 L97.2,692.8 L93.2,696.0 L91.2,706.0 L30.0,706.0 L30.0,681.0 L53.0,672.2 L62.0,668.0 L70.0,663.0 L73.8,659.8 L77.5,656.0 L82.0,653.0 L87.5,650.2 L92.5,647.5 L96.5,644.8 L100.0,645.2 L104.0,643.0 L107.0,640.0 L106.0,636.5 L107.0,631.5 L110.0,626.5 L114.5,623.0 L119.5,619.0 L124.5,616.0 L126.5,613.0 L123.5,609.0 L120.5,605.0 L124.0,602.0 L122.0,599.5 L115.0,595.0 L102.5,588.5 L90.0,581.0 L77.5,573.5 L65.0,566.5 L53.0,560.5 L30.0,549.8Z"/>
<path d="M115.8,637.2 L117.5,634.2 L121.2,633.5 L125.5,634.8 L127.0,637.8 L125.0,640.5 L121.2,641.2 L117.5,640.2Z"/>
<path d="M133.0,690.5 L135.0,687.8 L138.0,686.5 L139.5,688.5 L138.0,691.5 L135.0,693.0Z"/>
<path d="M128.0,547.5 L135.0,546.5 L145.0,547.5 L157.5,550.0 L170.0,553.5 L182.5,557.5 L195.0,562.0 L207.5,567.5 L220.0,573.0 L232.5,578.0 L245.0,583.5 L257.5,590.5 L265.0,594.0 L275.0,599.0 L275.0,666.0 L265.0,669.0 L260.0,668.5 L255.0,666.0 L250.0,663.0 L245.0,664.0 L240.0,666.0 L232.5,664.8 L226.2,661.0 L222.5,659.0 L217.5,656.0 L212.5,654.8 L208.0,654.0 L210.0,656.0 L215.0,658.0 L221.2,659.0 L225.0,658.5 L226.2,656.0 L223.8,652.2 L218.8,647.2 L213.8,643.0 L210.0,641.0 L199.2,638.5 L190.0,642.2 L185.0,643.0 L176.2,642.2 L170.0,639.0 L168.0,635.2 L170.0,631.5 L176.2,630.0 L179.2,628.5 L175.0,627.0 L167.5,623.0 L163.8,620.0 L162.5,615.0 L165.0,612.5 L169.5,610.0 L168.8,606.0 L165.0,604.0 L164.5,600.0 L158.8,596.0 L152.5,591.2 L146.2,586.2 L140.0,582.5 L137.0,580.0 L140.0,578.0 L145.0,575.5 L150.0,573.0 L148.8,570.0 L151.2,567.0 L145.0,561.5 L137.5,555.5 L131.2,551.5Z"/>
<path d="M233.2,591.8 L235.5,589.5 L237.8,591.8 L235.5,594.2Z"/>
<path d="M263.2,635.8 L267.5,632.8 L272.5,633.8 L274.8,635.8 L271.8,640.0 L267.5,644.0 L263.2,645.8 L260.0,643.8 L258.2,641.2 L261.8,638.8Z"/>
<path d="M170.5,634.8 L173.0,632.2 L176.2,633.5 L176.8,636.0 L174.2,637.5 L171.5,637.0Z"/>
<path d="M155.5,629.0 L160.0,627.5 L165.0,626.8 L167.5,628.0 L165.0,630.0 L160.0,631.0 L156.5,630.8Z"/>
</g>
<g clip-path="url(#t2)">
<path d="M30.0,686.0 L97.5,686.0 L93.2,696.0 L91.2,699.2 L89.2,703.2 L87.2,708.0 L85.2,711.2 L81.2,714.8 L77.2,718.8 L73.2,723.2 L69.2,728.0 L66.0,733.2 L67.2,735.0 L72.0,732.0 L77.2,728.0 L82.8,724.8 L86.8,723.2 L88.0,728.0 L87.2,733.2 L85.2,737.2 L80.0,742.2 L77.5,747.2 L73.8,753.5 L68.8,759.8 L63.8,766.0 L58.8,771.0 L53.0,776.5 L30.0,796.0Z"/>
</g>
<g clip-path="url(#t3)">
<path d="M258.3,560.8 L265.0,565.0 L271.7,569.2 L280.0,573.3 L288.3,577.5 L296.7,583.3 L305.0,588.3 L313.3,593.3 L320.0,598.3 L323.7,602.5 L322.5,605.0 L319.2,608.3 L317.5,610.0 L320.0,613.0 L323.3,615.8 L327.0,618.3 L329.3,617.5 L329.7,610.0 L330.3,603.3 L331.3,597.5 L334.2,593.3 L337.5,590.0 L340.8,587.5 L343.3,588.0 L346.7,590.8 L350.0,593.3 L353.3,595.8 L362.5,597.5 L371.7,598.7 L378.3,600.0 L383.3,599.2 L388.3,600.8 L393.3,603.7 L398.3,607.0 L403.0,610.0 L407.0,611.5 L411.0,612.0 L413.0,613.5 L413.5,617.0 L415.0,619.5 L421.7,620.8 L421.7,693.3 L258.3,693.3Z"/>
<path d="M332.2,615.0 L333.0,612.0 L334.7,611.0 L336.0,612.5 L335.7,615.8 L334.0,618.0 L332.7,617.3Z"/>
<path d="M258.3,590.0 L265.0,594.2 L271.7,599.2 L278.3,604.2 L285.0,609.2 L291.7,613.7 L298.3,617.5 L306.7,621.3 L316.5,623.0 L325.8,623.3 L331.7,624.2 L336.7,625.0 L339.2,624.2 L340.0,618.3 L341.3,611.7 L343.0,606.7 L346.7,605.8 L350.0,607.5 L353.3,610.8 L356.7,614.2 L359.2,617.5 L361.7,618.3 L362.5,613.3 L362.0,610.0 L365.0,608.0 L368.3,608.3 L370.8,610.8 L371.7,614.2 L376.7,613.7 L381.7,613.3 L386.7,613.0 L389.2,615.0 L390.0,620.0 L389.7,625.8 L390.8,630.0 L394.2,633.3 L398.0,631.0 L400.5,632.0 L399.5,635.0 L401.0,637.5 L404.0,638.0 L407.0,636.0 L410.0,634.0 L413.0,632.0 L416.0,630.0 L422.0,628.5 L424.0,630.0 L422.0,633.0 L420.0,636.0 L418.5,639.0 L417.5,641.0 L419.5,642.5 L420.5,645.0 L420.0,648.0 L421.0,651.0 L422.5,653.5 L421.2,655.2 L419.5,652.0 L417.5,648.0 L415.5,645.0 L413.5,642.5 L411.0,641.5 L409.0,643.0 L409.5,646.0 L410.0,650.0 L409.0,654.0 L408.0,657.0 L407.0,659.8 L405.8,664.2 L403.3,668.0 L397.8,669.2 L389.2,665.8 L385.8,666.7 L381.7,669.2 L378.3,671.7 L373.3,675.0 L368.3,676.7 L363.3,677.5 L358.3,679.2 L353.3,680.8 L346.0,683.0 L338.3,685.3 L331.7,687.5 L331.7,693.3 L303.3,693.3 L300.8,683.3 L298.3,679.2 L293.3,676.7 L288.3,675.8 L281.7,675.0 L275.0,673.3 L270.0,670.8 L265.0,668.3 L258.3,665.0Z"/>
<path d="M263.3,635.8 L267.5,632.8 L272.5,633.7 L274.7,635.8 L271.7,640.0 L267.5,644.0 L263.3,645.8 L260.0,643.7 L258.3,641.3 L261.7,638.7Z"/>
<path d="M279.2,651.7 L283.3,650.0 L286.7,648.3 L291.7,648.0 L298.3,649.2 L305.0,648.3 L311.7,650.0 L318.3,651.3 L325.0,650.8 L327.5,653.3 L327.0,658.3 L325.8,663.3 L323.3,667.5 L318.3,670.0 L312.5,669.7 L306.7,668.3 L302.5,665.8 L298.3,663.0 L293.3,660.0 L288.3,658.0 L283.3,656.3 L280.0,654.2Z"/>
<path d="M327.0,640.0 L329.2,638.0 L330.8,639.2 L330.3,643.3 L328.3,647.0 L326.7,645.0Z"/>
<path d="M334.2,666.7 L335.8,663.3 L339.2,660.8 L343.3,658.7 L344.7,660.0 L342.5,662.5 L343.3,665.8 L346.7,667.0 L343.3,668.3 L338.3,669.2 L335.0,668.7Z"/>
<path d="M318.3,675.0 L323.3,674.2 L328.0,674.7 L323.3,676.2 L319.2,676.2Z"/>
<path d="M382.5,653.3 L383.7,649.2 L385.8,646.7 L388.3,647.0 L387.5,650.8 L385.0,653.7Z"/>
<path d="M338.3,635.8 L339.2,630.0 L340.8,625.8 L342.5,620.8 L344.2,616.7 L346.7,615.3 L348.3,618.3 L348.8,622.5 L350.8,624.2 L355.0,625.8 L358.3,628.3 L360.8,631.7 L363.3,635.8 L365.8,640.0 L366.7,642.5 L363.3,644.2 L359.2,645.8 L355.8,647.5 L353.3,645.0 L350.0,643.0 L346.7,643.7 L343.3,644.2 L341.3,641.7 L342.0,638.3 L339.2,637.0Z"/>
</g>
<g clip-path="url(#t4)">
<path d="M408.3,620.8 L415.0,619.5 L418.0,621.0 L421.0,620.5 L424.0,619.0 L426.0,617.0 L429.0,615.5 L433.0,615.0 L437.0,616.0 L441.0,616.5 L445.0,615.0 L447.5,612.5 L450.0,611.8 L453.0,613.5 L456.0,616.0 L459.0,619.5 L462.0,624.0 L464.5,629.0 L466.5,634.0 L468.0,639.0 L469.0,644.0 L469.8,649.0 L470.5,654.0 L471.2,659.0 L471.8,664.0 L472.2,670.0 L472.5,675.0 L473.0,680.0 L473.7,685.0 L474.2,693.3 L408.3,693.3Z"/>
<path d="M408.3,633.3 L410.0,634.0 L413.0,632.0 L416.0,630.0 L419.0,629.0 L422.0,628.5 L424.0,630.0 L422.0,633.0 L420.0,636.0 L418.5,639.0 L417.5,641.0 L419.5,642.5 L420.5,645.0 L420.0,648.0 L421.0,651.0 L422.5,653.5 L421.2,655.2 L419.5,652.0 L417.5,648.0 L415.5,645.0 L413.5,642.5 L411.0,641.5 L408.3,642.5Z"/>
<path d="M426.0,630.0 L428.0,626.0 L430.0,622.5 L433.0,620.5 L437.0,620.5 L440.0,622.5 L444.0,625.0 L448.0,627.5 L451.0,630.0 L454.0,632.5 L456.0,631.5 L456.5,633.5 L455.0,634.5 L456.0,638.0 L457.5,642.0 L459.0,646.0 L460.0,650.0 L460.5,654.0 L460.8,659.0 L460.5,664.0 L460.0,670.0 L459.5,675.0 L459.3,677.2 L453.3,682.5 L447.0,685.0 L445.0,684.0 L442.5,684.5 L440.0,686.0 L438.5,685.0 L436.0,682.5 L434.0,680.5 L435.0,678.0 L433.5,675.0 L431.5,671.5 L434.0,670.5 L435.0,667.0 L436.0,662.0 L439.0,659.0 L438.0,657.5 L435.0,656.5 L433.0,654.5 L435.0,652.0 L436.0,649.0 L434.5,645.0 L432.0,640.0 L429.0,634.0Z"/>
</g>
<g clip-path="url(#t5)">
<path d="M258.3,691.3 L265.0,691.7 L270.0,692.5 L275.0,693.0 L280.0,691.7 L285.0,690.0 L290.0,689.2 L292.5,690.0 L293.0,692.5 L290.0,694.2 L287.5,695.8 L286.7,699.2 L287.5,703.3 L290.0,706.7 L295.0,708.0 L300.0,706.3 L305.0,704.2 L310.0,702.5 L313.3,700.8 L316.7,701.7 L321.7,700.8 L326.7,700.0 L331.7,699.7 L336.7,698.3 L341.7,695.8 L345.0,692.5 L348.3,690.8 L351.7,692.5 L353.0,695.8 L351.3,699.2 L350.8,703.3 L351.7,707.5 L355.8,708.0 L361.7,706.7 L368.3,705.8 L375.0,704.7 L381.7,704.2 L386.7,705.0 L393.7,700.8 L403.0,697.0 L405.0,699.0 L408.0,702.0 L410.5,705.0 L412.0,709.0 L414.0,712.5 L417.0,713.5 L421.7,713.3 L421.7,678.3 L258.3,678.3Z"/>
<path d="M375.8,692.5 L377.5,690.0 L380.0,690.8 L381.7,693.3 L383.0,696.7 L381.7,698.3 L379.2,696.7 L377.0,695.0Z"/>
<path d="M300.8,683.3 L303.3,686.7 L308.7,689.2 L310.3,691.2 L315.0,691.7 L321.7,689.5 L328.3,687.3 L335.0,685.3 L338.3,683.3Z"/>
</g>
<g clip-path="url(#t6)">
<path d="M408.3,678.3 L471.7,678.3 L473.5,681.0 L473.0,687.0 L471.0,691.0 L470.0,695.0 L470.2,700.0 L470.5,705.0 L471.0,711.0 L471.8,717.0 L473.0,723.0 L475.0,727.0 L478.3,729.7 L481.7,731.3 L485.0,733.0 L489.2,735.5 L493.3,738.7 L497.5,742.5 L501.7,745.0 L505.8,746.3 L515.0,747.0 L524.2,745.3 L528.3,743.3 L533.3,740.0 L537.5,735.8 L541.7,730.8 L545.8,725.0 L549.2,720.0 L552.5,715.0 L555.8,710.8 L560.0,707.5 L565.0,705.8 L571.7,704.2 L571.7,818.3 L513.3,818.3 L514.7,809.2 L519.2,805.3 L510.8,803.7 L505.0,802.5 L498.3,800.8 L491.7,798.3 L485.0,795.8 L478.3,792.5 L472.5,788.3 L468.3,783.3 L464.2,777.5 L460.8,772.5 L457.5,766.7 L454.2,759.2 L450.8,751.7 L447.5,745.8 L444.2,740.8 L440.8,735.8 L438.3,730.8 L436.3,728.0 L434.5,725.0 L433.0,723.0 L430.0,721.0 L426.5,720.0 L423.5,718.0 L422.0,715.0 L421.5,711.0 L421.0,707.0 L420.0,712.0 L417.0,713.5 L414.0,712.5 L412.0,709.0 L410.5,705.0 L408.0,702.0 L405.0,699.0Z"/>
<path d="M435.0,721.0 L437.0,718.5 L440.0,719.5 L443.0,721.5 L446.0,724.0 L448.0,727.0 L450.0,725.0 L452.0,728.0 L453.0,732.5 L455.3,739.2 L456.7,742.5 L455.0,744.5 L452.0,743.3 L449.2,739.2 L446.7,734.7 L443.3,733.3 L440.0,730.8 L437.5,726.7 L435.8,723.7Z"/>
<path d="M473.3,751.7 L474.2,747.5 L476.7,743.3 L479.2,743.7 L481.7,746.7 L483.3,750.8 L485.8,754.2 L490.0,756.7 L492.0,760.0 L492.5,763.3 L490.0,766.3 L485.8,767.5 L481.7,765.8 L478.3,763.3 L475.8,760.0 L473.7,755.8Z"/>
<path d="M511.7,770.3 L516.7,768.3 L521.7,765.0 L526.7,760.8 L531.7,755.8 L536.7,751.7 L541.7,749.7 L546.7,750.8 L548.7,752.5 L547.5,756.7 L545.8,760.8 L546.7,763.0 L544.2,765.0 L540.0,766.7 L535.8,769.2 L530.0,771.7 L523.3,772.8 L516.7,772.0Z"/>
<path d="M565.0,787.5 L561.7,791.7 L558.3,795.8 L555.0,800.0 L550.8,804.2 L546.7,807.5 L541.7,810.0 L531.7,814.2 L525.0,816.7 L535.0,814.2 L545.0,811.7 L552.5,809.5 L562.5,805.0 L572.5,801.2 L572.5,785.0Z"/>
</g>
<g clip-path="url(#t7)">
<path d="M555.0,712.5 L565.0,705.0 L572.5,698.8 L580.0,692.5 L587.5,687.5 L595.0,682.5 L601.2,677.5 L605.0,671.2 L605.5,663.8 L607.5,661.2 L610.0,665.0 L610.5,670.0 L613.8,673.0 L622.5,675.0 L632.5,677.0 L642.5,678.0 L652.5,679.5 L662.5,681.2 L672.5,683.8 L680.0,687.5 L687.5,689.5 L691.2,687.5 L692.5,689.5 L700.0,690.0 L710.0,689.5 L720.0,690.0 L730.0,691.2 L740.0,693.0 L750.0,694.5 L758.8,695.5 L768.0,696.5 L777.5,698.8 L782.5,701.2 L784.5,705.0 L782.5,711.2 L777.5,715.5 L770.0,718.8 L763.8,721.2 L758.8,723.8 L759.5,727.0 L763.8,728.0 L772.5,728.0 L782.5,729.5 L790.0,731.2 L800.0,733.0 L800.0,790.0 L790.0,790.5 L780.0,791.2 L770.0,791.2 L760.0,791.8 L750.0,792.0 L740.0,792.0 L730.0,791.5 L720.0,791.2 L710.0,791.2 L700.0,792.0 L690.0,793.0 L680.0,795.0 L670.0,797.5 L657.0,803.0 L647.5,805.0 L637.5,808.0 L627.5,810.5 L615.0,813.8 L602.5,816.2 L590.0,818.8 L577.5,821.2 L565.0,823.0 L555.0,824.5Z"/>
<path d="M593.8,668.0 L596.2,666.2 L600.0,666.0 L602.5,667.5 L600.0,669.5 L596.2,670.0Z"/>
<path d="M645.5,707.5 L650.0,704.0 L655.0,705.5 L659.5,708.5 L665.0,706.2 L672.5,707.0 L678.8,710.0 L682.5,713.0 L687.5,710.0 L692.5,711.2 L697.5,715.5 L701.2,713.8 L703.8,718.0 L700.0,721.2 L695.0,725.0 L687.5,728.0 L680.0,727.0 L672.5,726.2 L665.0,725.5 L657.5,725.0 L651.2,724.5 L647.5,722.5 L648.8,717.5 L650.0,712.5Z"/>
<path d="M555.0,793.0 L565.0,787.0 L575.0,780.5 L585.0,774.5 L595.0,768.8 L605.0,763.8 L615.0,760.0 L625.0,756.2 L635.0,753.8 L645.0,752.5 L657.5,751.2 L667.0,751.2 L676.2,751.2 L690.0,751.2 L702.5,750.8 L715.0,750.5 L727.5,750.0 L740.0,749.2 L752.5,748.2 L765.0,747.5 L777.5,746.5 L790.0,745.5 L800.0,745.0 L800.0,779.5 L790.0,778.8 L782.5,777.5 L775.0,778.0 L765.0,777.5 L755.0,777.0 L745.0,778.0 L735.0,777.5 L725.0,778.0 L715.0,778.8 L705.0,779.5 L700.0,779.5 L690.5,780.0 L681.2,780.0 L672.5,780.5 L662.5,781.2 L652.5,782.5 L642.5,784.5 L632.5,787.0 L622.5,789.5 L612.5,792.5 L602.5,795.5 L592.5,798.8 L582.5,801.2 L575.0,803.8 L565.0,805.5 L555.0,807.0Z"/>
<path d="M623.8,765.5 L630.0,762.5 L640.0,760.8 L652.5,760.0 L665.0,759.5 L675.0,759.5 L670.0,761.2 L660.0,762.5 L650.0,763.8 L640.0,765.5 L631.2,767.0 L625.0,767.0Z"/>
<path d="M682.5,759.5 L686.2,758.0 L691.2,758.8 L695.0,760.0 L691.2,762.0 L686.2,762.0Z"/>
<path d="M763.8,760.0 L767.5,758.0 L772.5,758.8 L776.2,757.5 L781.2,759.5 L777.5,762.0 L772.5,761.8 L767.5,763.0Z"/>
</g>
<g clip-path="url(#t8)">
<path d="M780.0,729.5 L790.0,731.2 L800.0,733.0 L810.0,733.8 L815.0,732.5 L820.0,735.0 L827.5,737.5 L835.0,739.2 L842.5,739.0 L847.0,738.0 L860.0,736.2 L860.0,798.8 L847.0,799.5 L840.0,798.0 L835.0,797.0 L830.0,796.2 L822.5,795.0 L817.5,795.5 L815.0,792.5 L811.2,795.0 L805.0,794.5 L795.0,793.0 L790.0,792.0 L785.0,791.2 L780.0,792.0Z"/>
<path d="M780.0,745.8 L787.5,745.5 L800.0,745.0 L807.5,744.5 L815.0,746.2 L825.0,748.0 L835.0,749.5 L847.0,750.5 L860.0,751.2 L860.0,780.5 L847.0,780.5 L840.0,780.0 L830.0,779.5 L820.0,780.5 L812.5,781.2 L810.0,779.5 L805.0,781.2 L795.0,779.5 L785.0,778.0 L780.0,777.5Z"/>
</g>
<g clip-path="url(#t9)">
<path d="M414.5,840.0 L422.5,837.5 L432.5,834.5 L445.0,830.0 L457.5,826.2 L470.0,823.0 L482.5,820.0 L495.0,815.5 L505.0,811.2 L510.0,808.8 L517.5,806.2 L525.0,805.0 L575.0,805.0 L575.0,822.5 L565.0,824.5 L560.0,827.5 L553.8,830.0 L547.5,828.8 L540.0,826.2 L535.0,825.0 L525.0,828.8 L515.0,831.2 L505.0,833.8 L495.0,835.5 L482.5,837.0 L470.0,838.0 L457.5,839.5 L445.0,840.0 L435.0,841.2 L425.0,842.5 L418.8,841.2Z"/>
<path d="M525.0,816.8 L530.0,813.8 L537.5,811.2 L547.5,806.2 L555.0,801.2 L562.5,805.0 L552.5,809.5 L542.5,812.5 L532.5,815.0Z"/>
</g>
<g clip-path="url(#t10)">
<path d="M761.7,356.0 L765.8,351.8 L771.7,349.3 L778.3,347.7 L786.7,346.8 L796.7,345.7 L806.7,344.7 L816.7,343.5 L825.0,342.7 L834.7,342.3 L847.0,342.3 L853.3,342.2 L853.3,376.8 L847.0,376.3 L841.7,376.3 L835.0,376.0 L828.3,374.7 L823.3,371.8 L818.3,369.3 L813.3,367.7 L806.7,366.8 L800.0,367.3 L793.3,367.3 L786.7,366.8 L780.0,365.2 L775.0,363.0 L770.0,360.2 L765.0,358.0Z"/>
</g>
<g clip-path="url(#t11)">
<path d="M732.8,577.5 L734.2,575.3 L737.5,573.7 L740.8,572.5 L743.7,571.7 L746.7,573.7 L750.0,575.3 L753.0,573.7 L755.0,570.0 L758.3,567.0 L762.0,565.5 L765.0,566.3 L765.3,569.2 L763.3,572.5 L759.2,575.3 L755.0,578.3 L750.0,580.3 L744.2,581.3 L738.3,581.3 L734.2,580.0Z"/>
</g>
</g>
</g>
<rect x="153.8" y="530.0" width="19" height="17" fill="#fff"/>
<text x="163.2" y="544.6" font-size="16.8" text-anchor="middle" textLength="17" lengthAdjust="spacingAndGlyphs">60</text>
<rect x="189.8" y="629.2" width="19" height="17" fill="#fff"/>
<text x="199.2" y="643.9" font-size="16.8" text-anchor="middle" textLength="17" lengthAdjust="spacingAndGlyphs">80</text>
<rect x="171.0" y="668.0" width="19" height="17" fill="#fff"/>
<text x="180.5" y="682.6" font-size="16.8" text-anchor="middle" textLength="17" lengthAdjust="spacingAndGlyphs">60</text>
<rect x="53.2" y="659.6" width="19" height="17" fill="#fff"/>
<text x="62.7" y="674.2" font-size="16.8" text-anchor="middle" textLength="17" lengthAdjust="spacingAndGlyphs">60</text>
<rect x="353.0" y="584.3" width="19" height="17" fill="#fff"/>
<text x="362.5" y="598.9" font-size="16.8" text-anchor="middle" textLength="17" lengthAdjust="spacingAndGlyphs">60</text>
<rect x="307.0" y="613.5" width="19" height="17" fill="#fff"/>
<text x="316.5" y="628.1" font-size="16.8" text-anchor="middle" textLength="17" lengthAdjust="spacingAndGlyphs">80</text>
<rect x="388.3" y="659.8" width="19" height="17" fill="#fff"/>
<text x="397.8" y="674.4" font-size="16.8" text-anchor="middle" textLength="17" lengthAdjust="spacingAndGlyphs">80</text>
<rect x="447.0" y="676.5" width="19" height="17" fill="#fff"/>
<text x="456.5" y="691.1" font-size="16.8" text-anchor="middle" textLength="17" lengthAdjust="spacingAndGlyphs">80</text>
<rect x="384.2" y="685.2" width="19" height="17" fill="#fff"/>
<text x="393.7" y="699.8" font-size="16.8" text-anchor="middle" textLength="17" lengthAdjust="spacingAndGlyphs">60</text>
<rect x="505.5" y="741.2" width="19" height="17" fill="#fff"/>
<text x="515.0" y="755.8" font-size="16.8" text-anchor="middle" textLength="17" lengthAdjust="spacingAndGlyphs">60</text>
<rect x="509.7" y="794.0" width="19" height="17" fill="#fff"/>
<text x="519.2" y="808.6" font-size="16.8" text-anchor="middle" textLength="17" lengthAdjust="spacingAndGlyphs">60</text>
<rect x="758.5" y="684.5" width="19" height="17" fill="#fff"/>
<text x="768.0" y="699.1" font-size="16.8" text-anchor="middle" textLength="17" lengthAdjust="spacingAndGlyphs">60</text>
<rect x="647.5" y="794.8" width="19" height="17" fill="#fff"/>
<text x="657.0" y="809.4" font-size="16.8" text-anchor="middle" textLength="17" lengthAdjust="spacingAndGlyphs">60</text>
<rect x="657.5" y="742.0" width="19" height="17" fill="#fff"/>
<text x="667.0" y="756.6" font-size="16.8" text-anchor="middle" textLength="17" lengthAdjust="spacingAndGlyphs">80</text>
<rect x="681.0" y="769.8" width="19" height="17" fill="#fff"/>
<text x="690.5" y="784.4" font-size="16.8" text-anchor="middle" textLength="17" lengthAdjust="spacingAndGlyphs">80</text>
<rect x="825.2" y="334.2" width="19" height="17" fill="#fff"/>
<text x="834.7" y="348.8" font-size="16.8" text-anchor="middle" textLength="17" lengthAdjust="spacingAndGlyphs">60</text>
<text x="730.5" y="722.5" font-size="9.3" stroke="#000" stroke-width="0.35" textLength="18.3" lengthAdjust="spacingAndGlyphs">THN</text>
<text x="675.0" y="747.0" font-size="9.3" stroke="#000" stroke-width="0.35" textLength="19.5" lengthAdjust="spacingAndGlyphs">BGD</text>
<text x="595.0" y="759.5" font-size="9.3" stroke="#000" stroke-width="0.35" textLength="15.5" lengthAdjust="spacingAndGlyphs">TLV</text>
<text x="565.5" y="781.0" font-size="9.3" stroke="#000" stroke-width="0.35" textLength="19.0" lengthAdjust="spacingAndGlyphs">CRO</text>
<text x="755.0" y="806.0" font-size="9.3" stroke="#000" stroke-width="0.35" textLength="26.0" lengthAdjust="spacingAndGlyphs">MNSK</text>
<text x="694.5" y="835.5" font-size="9.3" stroke="#000" stroke-width="0.35" textLength="18.5" lengthAdjust="spacingAndGlyphs">RYH</text>
<text x="766.0" y="831.0" font-size="9.3" stroke="#000" stroke-width="0.35" textLength="19.0" lengthAdjust="spacingAndGlyphs">DUB</text>
<text x="619.0" y="515.0" font-size="9.3" stroke="#000" stroke-width="0.35" textLength="27.0" lengthAdjust="spacingAndGlyphs">MSCW</text>
<text x="480.0" y="551.6" font-size="9.3" stroke="#000" stroke-width="0.35" textLength="27.0" lengthAdjust="spacingAndGlyphs">WRSW</text>
<text x="560.0" y="569.6" font-size="9.3" stroke="#000" stroke-width="0.35" textLength="19.6" lengthAdjust="spacingAndGlyphs">KYIV</text>
<text x="607.0" y="574.4" font-size="9.3" stroke="#000" stroke-width="0.35" textLength="26.0" lengthAdjust="spacingAndGlyphs">KHRK</text>
<text x="633.0" y="589.0" font-size="9.3" stroke="#000" stroke-width="0.35" textLength="24.0" lengthAdjust="spacingAndGlyphs">LHSK</text>
<text x="620.0" y="595.0" font-size="9.3" stroke="#000" stroke-width="0.35" textLength="24.0" lengthAdjust="spacingAndGlyphs">DNST</text>
<text x="618.0" y="604.4" font-size="9.3" stroke="#000" stroke-width="0.35" textLength="20.0" lengthAdjust="spacingAndGlyphs">MRP</text>
<text x="561.0" y="610.6" font-size="9.3" stroke="#000" stroke-width="0.35" textLength="25.0" lengthAdjust="spacingAndGlyphs">ODSA</text>
<text x="547.0" y="667.6" font-size="9.3" stroke="#000" stroke-width="0.35" textLength="13.0" lengthAdjust="spacingAndGlyphs">IST</text>
<rect x="53" y="316" width="794" height="568" fill="none" stroke="#000" stroke-width="2"/>
<text x="43.5" y="890.1" font-size="17.3" text-anchor="end" textLength="27.5" lengthAdjust="spacingAndGlyphs">20N</text>
<text x="43.5" y="838.5" font-size="17.3" text-anchor="end" textLength="27.5" lengthAdjust="spacingAndGlyphs">25N</text>
<text x="43.5" y="786.8" font-size="17.3" text-anchor="end" textLength="27.5" lengthAdjust="spacingAndGlyphs">30N</text>
<text x="43.5" y="735.2" font-size="17.3" text-anchor="end" textLength="27.5" lengthAdjust="spacingAndGlyphs">35N</text>
<text x="43.5" y="683.6" font-size="17.3" text-anchor="end" textLength="27.5" lengthAdjust="spacingAndGlyphs">40N</text>
<text x="43.5" y="631.9" font-size="17.3" text-anchor="end" textLength="27.5" lengthAdjust="spacingAndGlyphs">45N</text>
<text x="43.5" y="580.3" font-size="17.3" text-anchor="end" textLength="27.5" lengthAdjust="spacingAndGlyphs">50N</text>
<text x="43.5" y="528.6" font-size="17.3" text-anchor="end" textLength="27.5" lengthAdjust="spacingAndGlyphs">55N</text>
<text x="43.5" y="477.0" font-size="17.3" text-anchor="end" textLength="27.5" lengthAdjust="spacingAndGlyphs">60N</text>
<text x="43.5" y="425.4" font-size="17.3" text-anchor="end" textLength="27.5" lengthAdjust="spacingAndGlyphs">65N</text>
<text x="43.5" y="373.7" font-size="17.3" text-anchor="end" textLength="27.5" lengthAdjust="spacingAndGlyphs">70N</text>
<text x="43.5" y="322.1" font-size="17.3" text-anchor="end" textLength="27.5" lengthAdjust="spacingAndGlyphs">75N</text>
<text x="53.0" y="905" font-size="17.3" text-anchor="middle" textLength="27.5" lengthAdjust="spacingAndGlyphs">30W</text>
<text x="136.6" y="905" font-size="17.3" text-anchor="middle" textLength="27.5" lengthAdjust="spacingAndGlyphs">20W</text>
<text x="220.2" y="905" font-size="17.3" text-anchor="middle" textLength="27.5" lengthAdjust="spacingAndGlyphs">10W</text>
<text x="303.7" y="905" font-size="17.3" text-anchor="middle" textLength="9.0" lengthAdjust="spacingAndGlyphs">0</text>
<text x="387.3" y="905" font-size="17.3" text-anchor="middle" textLength="27.5" lengthAdjust="spacingAndGlyphs">10E</text>
<text x="470.9" y="905" font-size="17.3" text-anchor="middle" textLength="27.5" lengthAdjust="spacingAndGlyphs">20E</text>
<text x="554.5" y="905" font-size="17.3" text-anchor="middle" textLength="27.5" lengthAdjust="spacingAndGlyphs">30E</text>
<text x="638.1" y="905" font-size="17.3" text-anchor="middle" textLength="27.5" lengthAdjust="spacingAndGlyphs">40E</text>
<text x="721.6" y="905" font-size="17.3" text-anchor="middle" textLength="27.5" lengthAdjust="spacingAndGlyphs">50E</text>
<text x="805.2" y="905" font-size="17.3" text-anchor="middle" textLength="27.5" lengthAdjust="spacingAndGlyphs">60E</text>
<path d="M48,884.0 H53 M48,832.4 H53 M48,780.7 H53 M48,729.1 H53 M48,677.5 H53 M48,625.8 H53 M48,574.2 H53 M48,522.5 H53 M48,470.9 H53 M48,419.3 H53 M48,367.6 H53 M48,316.0 H53 M53.0,884 V889 M136.6,884 V889 M220.2,884 V889 M303.7,884 V889 M387.3,884 V889 M470.9,884 V889 M554.5,884 V889 M638.1,884 V889 M721.6,884 V889 M805.2,884 V889" stroke="#000" stroke-width="1.6" fill="none"/>
<text x="356.0" y="228.5" font-size="29.3" fill="#a000c8" textLength="57.3" lengthAdjust="spacingAndGlyphs">NCEP</text>
<text x="430.0" y="228.5" font-size="29.3" fill="#a000c8" textLength="41.7" lengthAdjust="spacingAndGlyphs">GFS</text>
<text x="488.3" y="228.5" font-size="29.3" fill="#a000c8" textLength="108.4" lengthAdjust="spacingAndGlyphs">GUIDANCE</text>
<text x="193.3" y="254.0" font-size="23.4" fill="#f00082" textLength="36.7" lengthAdjust="spacingAndGlyphs" stroke="#f00082" stroke-width="0.4">JET</text>
<text x="245.0" y="254.0" font-size="23.4" fill="#f00082" textLength="83.3" lengthAdjust="spacingAndGlyphs" stroke="#f00082" stroke-width="0.4">STREAM</text>
<text x="346.7" y="254.0" font-size="23.4" fill="#f00082" textLength="58.3" lengthAdjust="spacingAndGlyphs" stroke="#f00082" stroke-width="0.4">(Wind</text>
<text x="421.7" y="254.0" font-size="23.4" fill="#f00082" textLength="80.0" lengthAdjust="spacingAndGlyphs" stroke="#f00082" stroke-width="0.4">Speeds</text>
<text x="516.7" y="254.0" font-size="23.4" fill="#f00082" textLength="20.0" lengthAdjust="spacingAndGlyphs" stroke="#f00082" stroke-width="0.4">&gt;</text>
<text x="550.0" y="254.0" font-size="23.4" fill="#f00082" textLength="58.3" lengthAdjust="spacingAndGlyphs" stroke="#f00082" stroke-width="0.4">60kt)</text>
<text x="623.3" y="254.0" font-size="23.4" fill="#f00082" textLength="20.0" lengthAdjust="spacingAndGlyphs" stroke="#f00082" stroke-width="0.4">at</text>
<text x="658.3" y="254.0" font-size="23.4" fill="#f00082" textLength="46.7" lengthAdjust="spacingAndGlyphs" stroke="#f00082" stroke-width="0.4">200</text>
<text x="716.7" y="254.0" font-size="23.4" fill="#f00082" textLength="41.3" lengthAdjust="spacingAndGlyphs" stroke="#f00082" stroke-width="0.4">hPa</text>
<text x="181.7" y="281.3" font-size="21.4" fill="#1e3cff" textLength="98.3" lengthAdjust="spacingAndGlyphs" stroke="#1e3cff" stroke-width="0.5">[ISOTACHS</text>
<text x="295.0" y="281.3" font-size="21.4" fill="#1e3cff" textLength="18.3" lengthAdjust="spacingAndGlyphs" stroke="#1e3cff" stroke-width="0.5">of</text>
<text x="326.7" y="281.3" font-size="21.4" fill="#1e3cff" textLength="41.6" lengthAdjust="spacingAndGlyphs" stroke="#1e3cff" stroke-width="0.5">Wind</text>
<text x="383.3" y="281.3" font-size="21.4" fill="#1e3cff" textLength="55.0" lengthAdjust="spacingAndGlyphs" stroke="#1e3cff" stroke-width="0.5">Speed</text>
<text x="454.0" y="281.3" font-size="21.4" fill="#1e3cff" textLength="31.0" lengthAdjust="spacingAndGlyphs" stroke="#1e3cff" stroke-width="0.5">(kt)</text>
<text x="500.0" y="281.3" font-size="21.4" fill="#1e3cff" textLength="98.3" lengthAdjust="spacingAndGlyphs" stroke="#1e3cff" stroke-width="0.5">Contoured</text>
<text x="613.3" y="281.3" font-size="21.4" fill="#1e3cff" textLength="18.4" lengthAdjust="spacingAndGlyphs" stroke="#1e3cff" stroke-width="0.5">at</text>
<text x="645.0" y="281.3" font-size="21.4" fill="#1e3cff" textLength="126.0" lengthAdjust="spacingAndGlyphs" stroke="#1e3cff" stroke-width="0.5">60,80,100,..]</text>
<text x="152.8" y="310.8" font-size="29.0" fill="#000" textLength="69.2" lengthAdjust="spacingAndGlyphs" stroke="#000" stroke-width="0.3">VALID</text>
<text x="239.2" y="310.8" font-size="29.0" fill="#000" textLength="48.0" lengthAdjust="spacingAndGlyphs" stroke="#000" stroke-width="0.3">For:</text>
<text x="306.0" y="310.8" font-size="29.0" fill="#000" textLength="148.0" lengthAdjust="spacingAndGlyphs" stroke="#000" stroke-width="0.3">23OCT2025</text>
<text x="473.0" y="310.8" font-size="29.0" fill="#000" textLength="23.0" lengthAdjust="spacingAndGlyphs" stroke="#000" stroke-width="0.3">at</text>
<text x="517.0" y="310.8" font-size="29.0" fill="#000" textLength="61.0" lengthAdjust="spacingAndGlyphs" stroke="#000" stroke-width="0.3">1730</text>
<text x="597.0" y="310.8" font-size="29.0" fill="#000" textLength="36.0" lengthAdjust="spacingAndGlyphs" stroke="#000" stroke-width="0.3">IST</text>
<text x="672.0" y="310.8" font-size="29.0" fill="#000" textLength="60.0" lengthAdjust="spacingAndGlyphs" stroke="#000" stroke-width="0.3">1200</text>
<text x="752.0" y="310.8" font-size="29.0" fill="#000" textLength="47.0" lengthAdjust="spacingAndGlyphs" stroke="#000" stroke-width="0.3">UTC</text>
<path d="M652,315 L669.5,287" stroke="#000" stroke-width="2.2" fill="none"/>
<rect x="32" y="911" width="84" height="21.5" fill="#2846fa"/>
<circle cx="42.7" cy="921.5" r="6.9" fill="none" stroke="#fff" stroke-width="2.2"/>
<text x="42.7" y="925.2" font-size="10" fill="#dfe4ff" text-anchor="middle">C</text>
<text x="57.5" y="926.8" font-size="14" fill="#c4ceff" textLength="54" lengthAdjust="spacingAndGlyphs">WEACLIM</text>
<text x="247.5" y="930.8" font-size="26.1" fill="#3250ff" textLength="77.3" lengthAdjust="spacingAndGlyphs" stroke="#fff" stroke-width="0.7">INITIAL</text>
<text x="345.3" y="930.8" font-size="26.1" fill="#3250ff" textLength="159.7" lengthAdjust="spacingAndGlyphs" stroke="#fff" stroke-width="0.7">CONDITIONS:</text>
<text x="510.0" y="930.8" font-size="26.1" fill="#3250ff" textLength="196.0" lengthAdjust="spacingAndGlyphs" stroke="#fff" stroke-width="0.7">12Z21OCT2025</text>
<path d="M322.7,949 L364.7,937.5 V960.5Z" fill="#fff" stroke="#000" stroke-width="1"/>
<rect x="364.7" y="937.5" width="42.3" height="23" fill="#78f573" stroke="#000" stroke-width="1"/>
<rect x="407.0" y="937.5" width="42.3" height="23" fill="#50f050" stroke="#000" stroke-width="1"/>
<rect x="449.3" y="937.5" width="42.4" height="23" fill="#37d23c" stroke="#000" stroke-width="1"/>
<rect x="491.7" y="937.5" width="42.3" height="23" fill="#1eb41e" stroke="#000" stroke-width="1"/>
<path d="M534,937.5 L577.3,949 L534,960.5Z" fill="#0fa00f" stroke="#000" stroke-width="1"/>
<text x="365.5" y="980" font-size="20.5" text-anchor="middle" textLength="21.0" lengthAdjust="spacingAndGlyphs">60</text>
<text x="407.5" y="980" font-size="20.5" text-anchor="middle" textLength="21.6" lengthAdjust="spacingAndGlyphs">80</text>
<text x="450.3" y="980" font-size="20.5" text-anchor="middle" textLength="32.7" lengthAdjust="spacingAndGlyphs">100</text>
<text x="493.3" y="980" font-size="20.5" text-anchor="middle" textLength="34.7" lengthAdjust="spacingAndGlyphs">120</text>
<text x="535.5" y="980" font-size="20.5" text-anchor="middle" textLength="34.4" lengthAdjust="spacingAndGlyphs">140</text>
</svg>
</body></html>
